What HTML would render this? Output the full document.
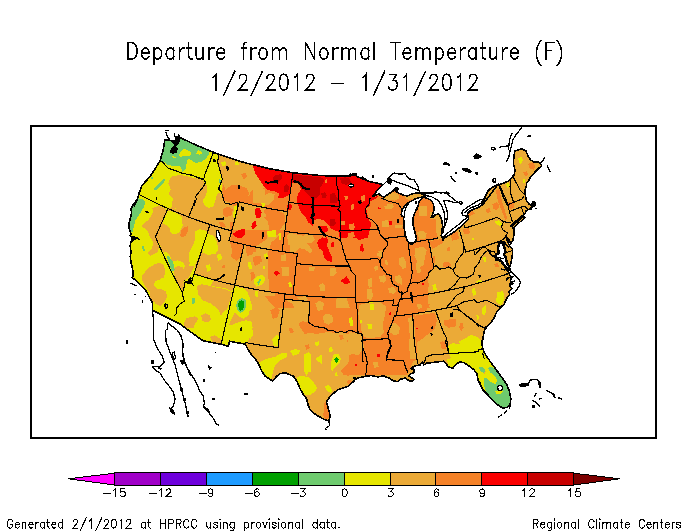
<!DOCTYPE html>
<html><head><meta charset="utf-8"><title>Departure from Normal Temperature</title>
<style>html,body{margin:0;padding:0;background:#fff;font-family:"Liberation Sans",sans-serif}svg{display:block}</style></head>
<body>
<svg width="688" height="531" viewBox="0 0 688 531">
<rect width="688" height="531" fill="#fff"/>
<g shape-rendering="crispEdges"><polygon points="180.5,138.1 178.2,140.4 175.2,141.1 171.4,140.8 168.1,139.9 164.9,139.6 164.0,145.7 162.8,151.7 161.1,157.0 160.4,160.2 157.8,164.5 154.5,169.8 151.0,175.1 147.2,179.7 144.6,182.5 141.5,186.5 139.3,192.5 138.4,196.0 136.6,201.6 134.4,205.8 136.3,200.5 132.5,205.8 131.0,208.8 131.7,212.6 130.2,218.7 128.7,224.7 129.5,230.0 131.0,233.8 130.2,235.6 132.5,238.3 131.0,241.3 130.2,245.9 131.0,251.9 130.2,256.5 131.0,262.5 132.5,268.6 133.3,275.8 131.9,277.3 136.5,281.1 141.0,285.7 145.5,290.2 147.8,294.0 150.1,298.5 152.3,302.3 152.3,310.1 180.0,324.0 189.1,330.8 196.6,336.1 202.7,340.6 221.6,344.4 228.4,346.2 229.6,341.3 245.3,344.1 247.3,348.2 251.0,354.2 255.6,359.5 258.6,364.0 261.6,370.8 264.7,375.8 272.7,381.0 276.5,376.5 280.2,373.4 286.3,373.1 293.8,376.5 297.6,382.5 299.9,388.5 302.9,393.8 306.7,399.1 308.2,405.2 310.5,410.5 316.5,415.0 324.1,419.5 328.9,421.0 329.8,418.0 329.7,413.5 327.8,406.7 326.3,402.2 328.6,398.4 331.6,395.0 334.7,392.3 338.4,389.6 343.7,387.8 348.3,386.3 354.0,381.0 354.4,379.6 359.7,377.5 365.4,376.3 371.7,375.5 377.8,377.0 383.1,375.8 389.9,378.5 392.9,380.8 397.4,381.6 400.5,379.3 402.7,378.8 405.0,377.8 407.3,379.6 411.0,381.6 413.5,380.5 413.8,379.0 411.0,377.3 408.8,375.8 411.0,373.6 414.1,372.5 414.4,369.5 411.0,368.7 412.6,367.2 415.6,365.7 420.1,364.9 422.4,361.9 423.9,364.9 426.9,363.0 430.7,362.7 436.7,361.9 444.0,361.2 448.1,366.5 452.7,368.3 455.7,364.9 459.5,361.9 464.0,362.7 468.5,365.7 473.8,369.5 476.9,374.0 478.1,380.5 480.6,385.3 482.9,389.9 486.7,393.7 489.7,397.4 493.5,401.2 498.0,405.0 502.6,408.0 507.1,407.3 510.1,404.2 510.9,399.0 509.4,391.4 507.1,385.3 503.3,379.3 498.8,373.3 495.8,369.0 490.5,361.9 486.7,356.6 483.7,351.3 482.2,346.0 482.2,340.0 482.5,341.6 482.9,338.6 484.0,332.5 485.5,328.0 490.0,323.4 493.8,318.9 495.6,314.4 497.6,310.6 501.3,306.8 504.4,303.8 506.6,298.5 509.7,294.7 508.9,291.7 511.9,288.7 509.7,285.7 512.7,283.4 510.4,280.4 511.9,277.3 509.7,275.1 508.2,272.0 505.9,269.0 504.4,266.0 507.0,270.1 509.6,267.0 511.5,261.0 512.3,255.0 512.3,248.9 510.0,246.6 508.5,243.6 507.0,239.8 505.5,236.1 508.5,238.6 510.8,244.1 513.0,239.8 514.1,233.8 513.8,228.5 512.3,226.2 511.0,226.0 512.9,224.1 516.0,221.0 519.8,217.9 522.9,215.4 525.4,213.5 526.0,211.0 527.9,209.8 529.8,209.1 531.6,207.2 534.1,206.0 535.8,204.1 534.1,201.6 532.2,202.9 531.6,205.4 529.1,204.1 526.6,201.0 526.0,197.9 525.0,193.5 525.4,188.5 526.6,184.8 526.6,183.4 528.2,181.2 530.4,177.4 532.7,175.1 535.0,172.1 537.2,169.8 539.5,167.6 541.8,166.1 540.2,163.0 538.0,162.0 534.2,162.0 530.7,160.0 528.2,156.2 525.9,150.9 521.3,148.7 517.6,150.2 515.0,150.9 513.8,156.2 513.5,163.8 515.0,169.8 514.5,174.4 512.3,177.4 508.5,181.2 498.7,185.0 494.1,186.5 490.4,188.7 487.3,191.8 485.4,197.0 483.6,201.6 482.0,205.8 498.1,184.1 492.5,187.2 488.8,190.4 486.2,194.1 484.4,197.9 482.5,200.6 481.2,205.4 478.8,207.2 473.8,209.2 470.0,211.1 467.5,213.5 467.8,216.2 468.8,219.1 466.2,221.6 463.1,224.1 460.0,227.2 456.2,230.4 452.5,232.9 448.8,235.4 445.0,237.2 442.5,238.5 443.1,240.0 442.5,238.5 441.2,235.4 442.5,232.2 443.1,228.5 442.5,224.8 441.9,221.0 440.6,217.2 439.4,214.5 438.1,214.1 435.0,214.8 433.1,217.2 431.2,217.5 432.5,214.8 433.8,211.0 434.0,207.2 433.1,203.5 431.2,200.4 427.5,198.5 423.5,197.2 422.8,197.9 420.6,199.8 419.0,202.2 418.1,206.0 415.6,211.0 413.8,215.4 412.8,219.8 413.1,224.8 414.4,229.8 415.6,234.8 416.5,239.1 415.0,242.2 412.5,243.8 410.6,243.8 407.5,241.0 405.6,236.0 404.4,229.8 404.0,223.5 403.5,217.2 401.9,216.0 401.2,214.1 401.9,211.0 403.5,207.5 406.0,204.5 408.8,202.5 411.9,200.8 415.0,199.0 418.8,197.8 422.8,196.9 425.2,195.9 423.0,194.6 420.2,193.0 416.5,192.8 411.5,194.2 407.1,196.0 404.0,195.2 399.6,193.6 396.8,192.1 398.4,188.6 396.8,187.4 395.2,188.8 392.8,191.1 389.0,193.6 384.0,197.1 381.5,196.2 379.0,194.0 375.9,195.2 372.8,196.5 372.8,195.9 375.9,192.1 379.0,188.4 382.8,185.0 383.4,184.6 375.2,182.8 369.0,181.5 364.0,179.0 362.5,178.7 356.5,176.4 356.0,174.1 352.7,173.8 348.9,176.4 349.2,176.2 336.1,176.2 318.5,175.4 293.0,172.8 268.3,168.5 243.7,162.4 219.3,154.5 213.5,152.3 196.1,145.1 180.3,137.7" fill="#ebaa37"/>
<clipPath id="us"><polygon points="180.5,138.1 178.2,140.4 175.2,141.1 171.4,140.8 168.1,139.9 164.9,139.6 164.0,145.7 162.8,151.7 161.1,157.0 160.4,160.2 157.8,164.5 154.5,169.8 151.0,175.1 147.2,179.7 144.6,182.5 141.5,186.5 139.3,192.5 138.4,196.0 136.6,201.6 134.4,205.8 136.3,200.5 132.5,205.8 131.0,208.8 131.7,212.6 130.2,218.7 128.7,224.7 129.5,230.0 131.0,233.8 130.2,235.6 132.5,238.3 131.0,241.3 130.2,245.9 131.0,251.9 130.2,256.5 131.0,262.5 132.5,268.6 133.3,275.8 131.9,277.3 136.5,281.1 141.0,285.7 145.5,290.2 147.8,294.0 150.1,298.5 152.3,302.3 152.3,310.1 180.0,324.0 189.1,330.8 196.6,336.1 202.7,340.6 221.6,344.4 228.4,346.2 229.6,341.3 245.3,344.1 247.3,348.2 251.0,354.2 255.6,359.5 258.6,364.0 261.6,370.8 264.7,375.8 272.7,381.0 276.5,376.5 280.2,373.4 286.3,373.1 293.8,376.5 297.6,382.5 299.9,388.5 302.9,393.8 306.7,399.1 308.2,405.2 310.5,410.5 316.5,415.0 324.1,419.5 328.9,421.0 329.8,418.0 329.7,413.5 327.8,406.7 326.3,402.2 328.6,398.4 331.6,395.0 334.7,392.3 338.4,389.6 343.7,387.8 348.3,386.3 354.0,381.0 354.4,379.6 359.7,377.5 365.4,376.3 371.7,375.5 377.8,377.0 383.1,375.8 389.9,378.5 392.9,380.8 397.4,381.6 400.5,379.3 402.7,378.8 405.0,377.8 407.3,379.6 411.0,381.6 413.5,380.5 413.8,379.0 411.0,377.3 408.8,375.8 411.0,373.6 414.1,372.5 414.4,369.5 411.0,368.7 412.6,367.2 415.6,365.7 420.1,364.9 422.4,361.9 423.9,364.9 426.9,363.0 430.7,362.7 436.7,361.9 444.0,361.2 448.1,366.5 452.7,368.3 455.7,364.9 459.5,361.9 464.0,362.7 468.5,365.7 473.8,369.5 476.9,374.0 478.1,380.5 480.6,385.3 482.9,389.9 486.7,393.7 489.7,397.4 493.5,401.2 498.0,405.0 502.6,408.0 507.1,407.3 510.1,404.2 510.9,399.0 509.4,391.4 507.1,385.3 503.3,379.3 498.8,373.3 495.8,369.0 490.5,361.9 486.7,356.6 483.7,351.3 482.2,346.0 482.2,340.0 482.5,341.6 482.9,338.6 484.0,332.5 485.5,328.0 490.0,323.4 493.8,318.9 495.6,314.4 497.6,310.6 501.3,306.8 504.4,303.8 506.6,298.5 509.7,294.7 508.9,291.7 511.9,288.7 509.7,285.7 512.7,283.4 510.4,280.4 511.9,277.3 509.7,275.1 508.2,272.0 505.9,269.0 504.4,266.0 507.0,270.1 509.6,267.0 511.5,261.0 512.3,255.0 512.3,248.9 510.0,246.6 508.5,243.6 507.0,239.8 505.5,236.1 508.5,238.6 510.8,244.1 513.0,239.8 514.1,233.8 513.8,228.5 512.3,226.2 511.0,226.0 512.9,224.1 516.0,221.0 519.8,217.9 522.9,215.4 525.4,213.5 526.0,211.0 527.9,209.8 529.8,209.1 531.6,207.2 534.1,206.0 535.8,204.1 534.1,201.6 532.2,202.9 531.6,205.4 529.1,204.1 526.6,201.0 526.0,197.9 525.0,193.5 525.4,188.5 526.6,184.8 526.6,183.4 528.2,181.2 530.4,177.4 532.7,175.1 535.0,172.1 537.2,169.8 539.5,167.6 541.8,166.1 540.2,163.0 538.0,162.0 534.2,162.0 530.7,160.0 528.2,156.2 525.9,150.9 521.3,148.7 517.6,150.2 515.0,150.9 513.8,156.2 513.5,163.8 515.0,169.8 514.5,174.4 512.3,177.4 508.5,181.2 498.7,185.0 494.1,186.5 490.4,188.7 487.3,191.8 485.4,197.0 483.6,201.6 482.0,205.8 498.1,184.1 492.5,187.2 488.8,190.4 486.2,194.1 484.4,197.9 482.5,200.6 481.2,205.4 478.8,207.2 473.8,209.2 470.0,211.1 467.5,213.5 467.8,216.2 468.8,219.1 466.2,221.6 463.1,224.1 460.0,227.2 456.2,230.4 452.5,232.9 448.8,235.4 445.0,237.2 442.5,238.5 443.1,240.0 442.5,238.5 441.2,235.4 442.5,232.2 443.1,228.5 442.5,224.8 441.9,221.0 440.6,217.2 439.4,214.5 438.1,214.1 435.0,214.8 433.1,217.2 431.2,217.5 432.5,214.8 433.8,211.0 434.0,207.2 433.1,203.5 431.2,200.4 427.5,198.5 423.5,197.2 422.8,197.9 420.6,199.8 419.0,202.2 418.1,206.0 415.6,211.0 413.8,215.4 412.8,219.8 413.1,224.8 414.4,229.8 415.6,234.8 416.5,239.1 415.0,242.2 412.5,243.8 410.6,243.8 407.5,241.0 405.6,236.0 404.4,229.8 404.0,223.5 403.5,217.2 401.9,216.0 401.2,214.1 401.9,211.0 403.5,207.5 406.0,204.5 408.8,202.5 411.9,200.8 415.0,199.0 418.8,197.8 422.8,196.9 425.2,195.9 423.0,194.6 420.2,193.0 416.5,192.8 411.5,194.2 407.1,196.0 404.0,195.2 399.6,193.6 396.8,192.1 398.4,188.6 396.8,187.4 395.2,188.8 392.8,191.1 389.0,193.6 384.0,197.1 381.5,196.2 379.0,194.0 375.9,195.2 372.8,196.5 372.8,195.9 375.9,192.1 379.0,188.4 382.8,185.0 383.4,184.6 375.2,182.8 369.0,181.5 364.0,179.0 362.5,178.7 356.5,176.4 356.0,174.1 352.7,173.8 348.9,176.4 349.2,176.2 336.1,176.2 318.5,175.4 293.0,172.8 268.3,168.5 243.7,162.4 219.3,154.5 213.5,152.3 196.1,145.1 180.3,137.7"/></clipPath><g clip-path="url(#us)">
<polygon points="178.5,294.5 199.7,294.5 202.7,300.5 208.7,302.0 214.8,304.3 218.5,309.6 220.8,315.7 223.8,311.1 225.3,326.2 232.2,324.7 240.5,321.7 246.5,320.2 251.0,321.7 252.6,327.7 251.0,335.3 248.0,341.3 245.3,344.1 245.3,377.6 178.5,377.6" fill="#e6e600"/>
<polygon points="108.5,264.5 155.3,264.5 155.3,347.6 108.5,347.6" fill="#e6e600"/>
<polygon points="98.5,194.5 167.3,194.5 167.3,209.6 155.2,235.6 174.8,275.8 174.8,280.7 98.5,280.7" fill="#e6e600"/>
<polygon points="118.5,124.5 222.0,124.5 222.0,207.6 118.5,207.6" fill="#e6e600"/>
<polygon points="367.8,186.2 435.8,186.2 435.8,237.6 367.8,237.6" fill="#f58228"/>
<polygon points="270.1,226.0 335.8,226.0 335.8,307.6 275.3,307.6 269.3,301.6 264.8,296.3 275.3,295.5 275.3,292.5 269.6,291.0 268.5,278.9 267.8,263.8 268.5,250.9 270.1,248.7 270.8,242.6 275.3,239.6 279.9,235.1 278.4,230.5" fill="#f58228"/>
<polygon points="245.1,226.0 254.2,226.0 254.9,235.1 251.2,241.1 245.1,240.4" fill="#f58228"/>
<polygon points="322.4,224.5 431.0,224.5 431.0,226.0 436.0,232.0 439.0,240.1 436.0,245.0 440.0,250.0 442.0,255.9 439.0,263.9 436.0,268.0 429.9,271.0 428.0,280.0 429.9,289.9 428.0,299.9 429.9,308.4 322.4,308.4" fill="#f58228"/>
<polygon points="285.5,294.5 293.8,294.5 293.8,288.5 355.8,288.5 355.8,335.3 346.7,333.8 340.7,331.6 334.7,333.1 328.6,331.6 322.6,333.1 316.5,333.8 310.5,333.1 304.4,333.8 301.4,329.3 298.4,324.0 302.2,321.0 307.4,322.5 308.7,312.7 301.4,314.2 295.3,311.2 293.1,304.4 289.3,302.1 285.5,299.8" fill="#f58228"/>
<polygon points="285.5,299.8 289.3,302.1 293.1,304.4 295.3,311.2 301.4,314.2 308.7,312.7 308.7,301.8 284.8,299.4" fill="#ebaa37"/>
<polygon points="348.5,288.5 399.9,288.5 398.4,299.1 415.0,296.8 428.6,296.0 430.1,303.6 425.6,311.2 415.0,313.4 415.0,315.7 425.6,314.2 434.7,312.7 436.9,320.2 434.7,329.3 428.6,333.8 421.0,339.9 416.5,342.2 416.5,359.5 413.5,361.0 407.4,374.7 348.5,374.7" fill="#f58228"/>
<polygon points="288.5,184.5 395.8,184.5 395.8,267.6 288.5,267.6" fill="#f58228"/>
<polygon points="222.9,184.5 222.2,190.5 223.7,201.1 237.3,202.9 245.6,205.7 251.6,211.7 248.6,219.3 242.6,223.8 238.0,228.3 232.7,232.9 229.7,241.2 232.0,249.5 231.2,257.0 236.5,260.8 241.0,257.0 242.6,249.5 243.3,245.3 254.7,246.5 260.7,243.4 266.7,238.9 268.3,231.3 274.0,228.3 275.8,228.3 275.8,184.5" fill="#f58228"/>
<polygon points="148.5,268.7 154.5,265.7 158.3,261.1 162.1,253.6 165.9,251.3 169.7,255.1 171.9,261.1 178.0,260.4 183.3,262.6 186.3,268.7 189.6,264.1 189.3,255.1 192.3,250.5 195.3,246.0 202.9,246.0 199.9,255.1 195.3,264.1 194.1,274.0 199.9,276.2 207.4,278.5 213.5,280.8 210.5,285.3 216.5,286.8 225.6,288.3 231.6,291.3 234.7,285.3 240.7,288.3 246.7,291.3 249.8,297.4 250.5,306.5 248.3,315.5 243.7,318.6 239.2,317.0 234.7,312.5 232.4,317.0 228.6,325.8 228.6,330.7 148.5,330.7" fill="#e6e600"/>
<polygon points="150.0,244.5 157.6,244.5 160.6,252.0 159.1,256.6 153.8,257.3 150.0,255.1 148.5,255.1 148.5,244.5" fill="#e6e600"/>
<polygon points="330.0,171.1 384.4,171.1 383.2,183.2 379.9,187.0 376.1,191.5 372.3,196.1 375.3,196.8 378.7,195.6 375.3,199.1 370.1,201.3 369.6,205.9 366.3,208.2 367.0,213.4 368.5,219.5 370.8,224.0 370.1,228.3 367.8,237.6 330.0,237.6" fill="#fa0000"/>
<polygon points="296.8,184.5 296.8,190.5 296.0,198.1 298.3,205.7 301.3,211.7 305.1,216.2 308.1,222.3 312.7,226.1 313.4,220.8 317.2,218.5 324.8,220.8 330.1,226.8 335.3,230.6 339.1,231.3 339.9,237.4 344.4,238.2 348.2,232.9 353.5,231.3 355.0,236.6 359.5,239.7 364.1,238.9 364.8,231.3 370.1,228.3 371.6,223.8 368.6,219.3 366.3,213.2 365.6,207.2 368.6,202.6 372.4,197.3 377.7,192.8 382.2,189.0 383.7,184.5" fill="#fa0000"/>
<polygon points="164.9,139.6 171.4,140.8 178.2,140.4 180.5,138.1 192.6,142.9 204.7,148.4 209.5,150.9 208.9,154.0 206.2,158.5 201.6,161.5 195.6,163.0 191.0,160.0 188.0,158.5 186.5,163.8 185.3,169.8 182.7,172.1 180.5,166.5 175.9,166.1 171.4,165.6 166.9,164.5 164.6,162.3 160.4,160.2 162.8,151.7 164.0,145.7" fill="#6ecb6e"/>
<polygon points="179.0,155.5 180.5,151.7 183.5,148.7 188.0,150.2 191.0,152.5 190.3,155.5 186.5,156.2 183.5,155.5 181.2,157.0" fill="#e6e600"/>
<polygon points="196.3,154.0 197.8,150.2 200.9,150.9 202.4,154.0 199.4,154.7" fill="#e6e600"/>
<polygon points="172.2,156.2 175.9,157.0 176.2,158.5 172.9,158.2" fill="#e6e600"/>
<polygon points="138.4,196.0 139.0,199.0 144.6,199.8 143.8,205.1 141.6,211.1 138.5,215.7 135.5,220.2 134.0,226.2 132.5,232.3 130.2,231.5 128.7,224.7 130.2,218.7 131.7,212.6 131.0,208.8 132.5,205.8 136.3,200.5" fill="#6ecb6e"/>
<polygon points="141.6,246.6 143.8,245.9 145.0,250.4 143.1,251.2" fill="#6ecb6e"/>
<polygon points="166.5,256.5 168.8,255.7 171.8,262.5 174.8,270.1 172.6,271.6 169.5,264.0" fill="#6ecb6e"/>
<polygon points="152.2,208.1 159.7,205.4 166.5,209.6 165.3,216.4 162.3,223.2 158.7,228.0 155.9,234.5 156.7,241.3 159.0,247.4 157.4,252.7 153.7,254.2 150.6,255.7 147.6,253.4 151.4,248.9 153.2,244.4 152.2,239.8 149.9,236.8 148.1,231.5 145.3,228.5 141.6,227.0 143.8,223.2 148.1,220.2 151.4,215.7 153.2,211.1" fill="#ebaa37"/>
<polygon points="142.0,275.1 146.3,271.3 152.3,269.8 159.9,266.8 164.4,266.0 162.9,269.0 158.4,275.1 154.6,281.1 153.8,285.7 156.9,288.7 161.4,289.4 165.9,291.7 167.4,296.2 164.4,302.3 159.9,306.1 155.3,303.8 153.1,298.5 150.1,293.2 145.5,287.2 142.5,281.1" fill="#ebaa37"/>
<polygon points="176.5,278.1 181.0,272.0 185.6,266.0 194.7,266.0 191.6,272.0 188.6,278.1 184.1,281.1 181.0,287.2 178.8,285.7" fill="#ebaa37"/>
<polygon points="196.9,285.7 202.2,284.1 214.0,288.7 214.0,300.8 206.7,301.5 200.7,297.7 197.7,291.7" fill="#ebaa37"/>
<polygon points="201.5,315.9 205.2,314.1 209.8,315.9 210.5,319.7 206.7,322.2 202.2,320.7" fill="#ebaa37"/>
<polygon points="184.1,321.9 188.6,318.2 194.7,316.6 198.0,318.2 196.2,322.7 192.4,326.5 187.1,328.0 184.4,325.7" fill="#ebaa37"/>
<polygon points="169.7,266.0 174.2,266.0 172.7,271.3 171.2,270.5" fill="#6ecb6e"/>
<polygon points="192.4,298.5 194.7,298.0 193.9,303.8 192.1,304.1" fill="#6ecb6e"/>
<polygon points="199.7,296.0 231.4,296.0 228.4,305.1 223.8,311.1 220.8,315.7 218.5,309.6 214.8,304.3 208.7,302.0 202.7,300.5" fill="#ebaa37"/>
<polygon points="201.2,315.7 205.7,314.1 210.2,316.4 211.0,320.2 207.2,322.5 202.7,320.9" fill="#ebaa37"/>
<polygon points="184.5,320.9 189.1,317.2 195.1,316.4 198.1,318.7 195.1,324.0 189.1,326.2 185.3,324.7" fill="#ebaa37"/>
<polygon points="210.2,336.8 214.8,335.3 220.8,339.1 221.1,344.1 212.5,342.1" fill="#ebaa37"/>
<polygon points="192.1,299.0 194.4,298.3 193.9,302.8 192.4,303.6" fill="#6ecb6e"/>
<polygon points="259.1,365.1 265.1,361.3 272.7,359.1 280.2,354.5 286.3,353.0 287.0,356.8 282.5,358.3 278.0,362.1 274.2,366.6 272.7,372.7 271.2,379.5 265.1,376.0 261.3,371.2" fill="#e6e600"/>
<polygon points="260.6,368.9 262.8,370.4 265.1,374.2 263.6,374.9 260.9,371.2" fill="#6ecb6e"/>
<polygon points="304.4,354.5 308.2,352.3 310.5,354.5 310.5,365.1 308.2,372.7 306.7,376.5 304.7,372.7 303.7,363.6" fill="#e6e600"/>
<polygon points="296.9,377.2 302.2,375.7 308.2,377.2 313.5,382.5 317.3,387.8 315.0,391.6 310.5,394.6 306.7,395.3 302.9,393.1 299.9,387.8 297.6,381.7" fill="#e6e600"/>
<polygon points="315.0,359.1 321.8,354.5 322.3,364.4" fill="#e6e600"/>
<polygon points="330.9,362.1 333.9,354.5 336.9,353.8 340.7,359.1 339.2,363.6 335.4,366.6 332.4,370.4 330.9,369.7 333.1,365.1" fill="#e6e600"/>
<polygon points="333.9,359.8 336.5,356.0 338.4,359.8 336.5,363.3" fill="#00a000"/>
<polygon points="334.7,373.4 336.9,371.9 337.7,375.7 335.4,376.5" fill="#e6e600"/>
<polygon points="324.8,386.3 328.6,384.8 332.4,390.1 330.9,393.1 327.1,390.8" fill="#e6e600"/>
<polygon points="290.1,351.5 295.3,350.0 300.6,350.0 298.4,353.8 293.1,355.3" fill="#e6e600"/>
<polygon points="340.7,370.4 346.7,365.1 350.5,359.1 354.0,354.5 354.0,374.2 348.3,375.7 343.7,374.9" fill="#f58228"/>
<polygon points="346.7,381.0 350.5,379.5 352.0,382.5 348.3,384.0" fill="#f58228"/>
<polygon points="323.6,402.9 326.6,402.2 328.3,410.5 329.2,418.0 325.6,419.2 322.9,415.0 324.4,409.0" fill="#f58228"/>
<polygon points="448.1,366.5 447.8,362.7 451.2,358.1 448.9,353.6 447.8,346.0 452.7,343.0 460.2,344.5 462.5,340.0 482.2,340.0 482.2,346.0 483.7,351.3 486.7,356.6 490.5,361.9 495.8,369.0 493.5,375.5 489.7,372.5 488.2,368.0 484.4,372.5 483.7,378.5 484.4,386.9 486.7,393.7 482.9,389.9 480.6,385.3 478.1,380.5 476.9,374.0 473.8,369.5 468.5,365.7 464.0,362.7 459.5,361.9 455.7,364.9 452.7,368.3" fill="#e6e600"/>
<polygon points="483.7,378.5 486.7,377.8 490.5,381.6 495.0,383.8 496.5,380.1 493.5,375.5 489.7,372.5 488.2,368.0 491.2,366.5 495.0,368.7 498.8,374.0 503.3,379.6 507.1,385.3 509.4,391.4 510.6,399.0 509.8,404.2 507.1,407.3 502.6,407.7 498.0,404.7 493.5,400.9 489.7,397.1 486.7,393.2 484.4,386.9 483.7,382.3" fill="#6ecb6e"/>
<polygon points="482.9,378.5 487.4,367.2 490.5,372.5 494.2,375.5 497.3,380.1 495.3,384.1 490.5,382.0 486.7,378.1" fill="#e6e600"/>
<polygon points="478.4,367.2 482.2,366.5 485.2,370.2 483.7,373.3 480.6,371.0" fill="#6ecb6e"/>
<polygon points="495.0,391.4 498.0,390.6 503.3,390.6 501.0,393.7 496.5,393.7" fill="#e6e600"/>
<polygon points="439.8,343.0 442.8,340.8 445.1,344.5 445.9,349.1 442.8,348.3" fill="#f58228"/>
<polygon points="471.9,288.7 474.9,287.9 476.4,295.5 474.1,298.5 472.3,294.7" fill="#e6e600"/>
<polygon points="496.8,296.2 499.8,292.5 503.6,293.2 504.4,298.5 502.1,303.8 498.3,304.5 496.1,301.5" fill="#e6e600"/>
<polygon points="482.5,308.3 485.5,305.3 486.2,311.3 484.0,315.9 482.0,313.6" fill="#e6e600"/>
<polygon points="476.4,315.1 478.4,314.4 478.7,318.9 477.2,319.7" fill="#e6e600"/>
<polygon points="474.9,280.4 480.9,279.6 481.7,281.9 475.7,282.6" fill="#e6e600"/>
<polygon points="459.8,323.4 462.8,322.7 463.6,328.0 461.3,331.0 459.3,328.0" fill="#f58228"/>
<polygon points="459.0,341.6 465.1,338.6 471.1,334.8 477.2,337.0 481.7,341.6 482.5,345.8 482.0,350.7 462.0,350.7" fill="#e6e600"/>
<polygon points="494.9,221.7 498.7,220.2 502.0,224.0 500.2,225.9 496.4,224.0" fill="#e6e600"/>
<polygon points="484.3,258.0 485.8,257.2 486.9,261.8 485.4,262.5" fill="#e6e600"/>
<polygon points="528.2,163.8 532.7,162.3 535.7,166.1 533.4,169.8 529.7,168.3" fill="#f58228"/>
<polygon points="522.9,172.1 526.6,171.3 528.2,175.1 525.1,176.6" fill="#f58228"/>
<polygon points="518.3,158.5 521.3,157.0 523.2,160.0 521.3,163.8 519.1,163.0" fill="#e6e600"/>
<polygon points="505.5,184.2 508.5,182.7 510.0,185.7 507.7,188.0" fill="#e6e600"/>
<polygon points="522.9,179.7 524.4,178.9 525.1,182.7 523.6,183.4" fill="#e6e600"/>
<polygon points="230.0,184.8 234.5,182.5 239.1,180.2 243.6,184.0 248.1,185.5 251.2,182.5 255.7,185.5 260.2,182.5 264.0,186.3 267.8,190.1 275.3,191.6 279.9,193.8 277.6,197.6 282.9,198.4 288.2,195.3 290.8,193.8 291.2,182.5 298.8,183.6 301.0,189.3 297.7,194.6 296.5,200.6 298.8,206.7 301.0,212.7 305.6,218.8 308.6,224.1 311.6,229.8 311.6,234.7 230.0,234.7" fill="#f58228"/>
<polygon points="252.4,164.8 254.9,172.7 259.5,179.5 264.0,186.3 267.8,190.1 275.3,191.6 279.9,193.8 277.6,197.6 282.9,198.4 288.2,195.3 290.8,193.8 291.2,182.5 298.8,183.6 301.0,189.3 297.7,194.6 296.5,200.6 298.8,206.7 301.0,212.7 305.1,216.2 308.2,222.3 312.7,226.0 313.4,220.7 317.2,218.5 324.8,220.7 330.1,226.8 335.4,230.6 335.8,230.6 335.8,175.7 292.7,172.4 275.3,170.1" fill="#fa0000"/>
<polygon points="286.7,205.9 289.7,203.7 292.3,205.2 291.2,209.7 288.2,210.5" fill="#fa0000"/>
<polygon points="272.3,178.0 275.3,174.9 281.4,174.2 282.2,178.7 278.4,182.5 273.8,181.7" fill="#c80000"/>
<polygon points="292.7,174.2 301.0,175.4 311.6,176.5 320.7,177.2 324.5,179.5 322.2,184.8 319.2,189.3 316.2,195.3 314.7,200.6 312.4,198.4 311.6,193.8 308.6,190.1 305.6,188.5 301.0,184.0 296.5,181.0 292.7,181.0" fill="#c80000"/>
<polygon points="283.7,186.3 286.7,184.0 289.0,187.0 288.2,191.6 284.4,192.3" fill="#c80000"/>
<polygon points="322.2,193.8 324.5,191.6 326.7,195.3 325.2,198.4 322.5,197.6" fill="#c80000"/>
<polygon points="324.9,180.2 326.7,178.7 327.5,182.5 325.5,183.3" fill="#f58228"/>
<polygon points="241.3,174.9 244.4,173.4 246.6,175.7 245.1,178.7 242.1,178.4" fill="#f58228"/>
<polygon points="233.8,164.4 236.8,162.8 239.1,164.4 236.0,166.9" fill="#e6e600"/>
<polygon points="261.0,199.9 264.0,195.3 269.3,193.1 274.6,193.8 273.8,199.9 269.3,204.4 264.0,205.2" fill="#ebaa37"/>
<polygon points="261.0,201.4 264.0,200.6 265.1,205.9 262.0,207.1" fill="#e6e600"/>
<polygon points="238.3,202.2 287.4,211.2 285.2,229.8 233.0,229.8" fill="#ebaa37"/>
<polygon points="264.8,209.0 275.3,209.7 284.4,213.5 285.2,222.6 279.9,229.8 269.3,229.8 267.8,221.0 263.3,216.5" fill="#f58228"/>
<polygon points="254.9,210.5 258.7,207.4 261.7,212.0 259.5,218.0 255.7,216.5" fill="#fa0000"/>
<polygon points="251.9,223.3 254.9,221.0 257.2,225.6 254.2,228.6" fill="#fa0000"/>
<polygon points="230.0,207.4 235.3,205.2 236.8,210.5 234.5,221.0 230.0,222.6" fill="#e6e600"/>
<polygon points="339.8,178.7 345.1,177.2 349.7,178.7 351.2,182.5 346.6,184.7 342.1,184.0" fill="#c80000"/>
<polygon points="330.0,193.8 334.5,193.0 336.0,198.3 333.8,202.9 330.0,202.9" fill="#c80000"/>
<polygon points="330.0,219.5 334.5,218.7 336.0,223.3 333.0,227.0 330.0,226.3" fill="#c80000"/>
<polygon points="344.4,196.1 347.4,195.6 348.1,199.1 345.1,200.1" fill="#f58228"/>
<polygon points="361.0,196.1 364.8,195.0 365.5,200.6 362.0,201.3" fill="#f58228"/>
<polygon points="350.4,204.7 353.9,204.4 354.2,209.2 351.2,209.7" fill="#f58228"/>
<polygon points="348.9,224.0 354.2,223.3 354.9,229.8 349.7,230.1" fill="#f58228"/>
<polygon points="339.8,221.3 344.8,221.0 345.1,225.2 340.6,225.5" fill="#f58228"/>
<polygon points="405.6,192.3 434.0,191.5 434.0,197.6 414.7,198.6 408.6,199.8 404.8,197.6" fill="#ebaa37"/>
<polygon points="382.9,197.6 387.4,194.5 393.5,192.3 398.0,193.8 399.5,198.3 395.0,200.6 390.5,199.8 385.9,200.6" fill="#ebaa37"/>
<polygon points="384.4,205.9 392.0,205.6 392.3,208.9 384.7,209.2" fill="#ebaa37"/>
<polygon points="382.2,221.0 388.2,221.3 387.9,227.0 382.5,226.7" fill="#ebaa37"/>
<polygon points="395.0,224.8 402.6,225.1 402.3,228.0 395.3,227.7" fill="#ebaa37"/>
<polygon points="419.2,205.9 426.7,206.2 427.0,216.5 419.5,216.2" fill="#ebaa37"/>
<polygon points="429.8,211.9 435.8,212.2 435.8,219.5 430.1,219.2" fill="#ebaa37"/>
<polygon points="389.7,221.0 392.0,221.3 391.7,224.0 389.9,223.7" fill="#fa0000"/>
<polygon points="378.4,207.4 381.4,207.7 381.1,209.2 378.5,208.9" fill="#fa0000"/>
<polygon points="252.7,260.0 256.5,256.2 260.2,257.7 259.5,263.8 254.9,266.1" fill="#f58228"/>
<polygon points="250.4,272.9 254.2,271.3 254.9,278.2 251.2,280.4" fill="#f58228"/>
<polygon points="231.5,248.7 236.0,247.2 241.3,248.7 240.6,256.2 236.0,258.5 231.8,256.2" fill="#f58228"/>
<polygon points="263.6,254.7 267.0,253.2 268.1,257.0 265.1,259.0" fill="#e6e600"/>
<polygon points="247.8,262.3 250.4,261.1 251.2,268.3 248.9,269.8" fill="#e6e600"/>
<polygon points="262.5,266.1 264.8,265.6 265.1,269.1 263.0,269.5" fill="#e6e600"/>
<polygon points="254.2,278.9 258.0,275.9 262.5,275.1 265.1,278.2 264.0,282.7 260.2,285.7 256.5,286.5 254.2,283.4" fill="#e6e600"/>
<polygon points="288.2,282.7 291.2,282.2 292.0,286.5 289.3,287.2" fill="#e6e600"/>
<polygon points="233.8,294.0 237.6,288.7 243.6,288.0 248.1,292.5 248.9,301.6 246.6,307.6 233.0,307.6" fill="#e6e600"/>
<polygon points="254.9,292.5 258.0,291.8 258.4,296.3 255.7,297.0" fill="#e6e600"/>
<polygon points="266.3,232.8 272.3,231.3 273.8,234.3 268.5,236.6" fill="#e6e600"/>
<polygon points="278.4,233.6 280.6,232.8 281.1,239.6 279.1,240.4" fill="#e6e600"/>
<polygon points="257.2,282.7 259.5,278.9 261.4,278.9 260.2,282.2 258.4,284.7" fill="#6ecb6e"/>
<polygon points="236.0,301.6 239.1,297.8 243.6,298.3 245.1,303.1 243.6,307.6 236.8,307.6" fill="#6ecb6e"/>
<polygon points="238.3,303.8 240.6,300.1 243.3,300.8 243.9,307.6 239.1,307.6" fill="#00a000"/>
<polygon points="273.1,272.9 276.9,270.6 279.9,273.6 276.6,275.6" fill="#fa0000"/>
<polygon points="232.3,234.3 237.6,230.5 244.4,228.3 245.1,232.8 240.6,237.3 235.3,236.6" fill="#fa0000"/>
<polygon points="251.2,226.0 255.7,226.0 254.2,229.0 251.9,228.7" fill="#fa0000"/>
<polygon points="317.7,240.4 322.2,238.1 326.7,237.3 328.3,241.1 326.7,245.7 329.0,250.2 331.3,256.2 332.0,261.5 328.3,260.0 325.2,255.5 323.0,250.9 319.9,248.7 317.7,244.1" fill="#fa0000"/>
<polygon points="319.2,226.0 326.7,226.0 328.3,230.5 324.5,232.8 320.7,230.5" fill="#fa0000"/>
<polygon points="329.8,226.0 334.0,226.0 334.0,229.8 331.3,229.0" fill="#fa0000"/>
<polygon points="331.3,242.6 334.0,241.9 334.0,247.2 331.6,247.2" fill="#fa0000"/>
<polygon points="280.6,254.7 285.9,254.4 286.2,260.8 281.1,261.1" fill="#ebaa37"/>
<polygon points="281.4,266.8 289.0,266.5 289.3,275.9 282.2,276.2" fill="#ebaa37"/>
<polygon points="301.0,237.3 305.6,234.3 312.4,235.1 314.7,239.6 310.9,243.4 304.8,242.6" fill="#ebaa37"/>
<polygon points="287.1,235.1 290.5,232.8 295.0,235.1 295.8,242.6 292.0,246.4 288.2,244.9" fill="#ebaa37"/>
<polygon points="308.6,266.8 314.7,267.1 314.3,271.3 308.9,271.0" fill="#ebaa37"/>
<polygon points="319.2,285.0 323.0,283.1 325.5,286.5 324.5,291.0 320.4,291.3" fill="#ebaa37"/>
<polygon points="329.8,269.8 334.0,270.1 334.0,274.4 330.1,274.1" fill="#ebaa37"/>
<polygon points="296.5,297.0 305.6,296.3 308.6,300.1 301.0,301.6" fill="#ebaa37"/>
<polygon points="330.0,226.0 339.1,226.0 339.8,232.0 336.0,235.1 331.5,233.6 330.0,230.5" fill="#fa0000"/>
<polygon points="341.3,229.0 346.6,227.5 349.7,232.0 346.6,237.3 342.1,236.6" fill="#fa0000"/>
<polygon points="352.7,230.5 356.5,226.0 366.3,226.0 365.5,233.6 363.3,238.8 358.0,239.6 354.2,236.6" fill="#fa0000"/>
<polygon points="359.5,248.7 362.0,242.6 363.6,250.2 361.0,251.7" fill="#fa0000"/>
<polygon points="330.0,254.7 331.5,256.2 331.8,261.5 330.0,262.3" fill="#fa0000"/>
<polygon points="340.6,281.2 346.6,275.9 350.4,282.7 345.1,284.2" fill="#fa0000"/>
<polygon points="422.2,283.4 424.5,283.1 424.2,285.3 422.4,285.1" fill="#fa0000"/>
<polygon points="330.8,244.1 332.3,243.8 332.3,246.4 330.9,246.4" fill="#fa0000"/>
<polygon points="416.9,232.0 422.2,230.5 426.7,233.6 425.2,238.8 419.2,239.6" fill="#ebaa37"/>
<polygon points="398.8,258.5 402.6,257.0 405.6,261.5 406.3,267.6 402.6,269.1 399.5,264.5" fill="#ebaa37"/>
<polygon points="395.0,275.9 400.3,275.1 402.6,280.4 398.8,284.2 395.3,281.2" fill="#ebaa37"/>
<polygon points="379.1,276.6 384.4,275.1 386.7,278.9 384.4,282.7 379.9,281.9" fill="#ebaa37"/>
<polygon points="368.5,278.9 371.6,278.2 372.3,286.5 369.6,288.0 367.8,284.2" fill="#ebaa37"/>
<polygon points="367.0,289.5 371.6,288.7 373.1,295.5 370.8,300.1 367.0,298.6" fill="#ebaa37"/>
<polygon points="388.2,288.0 393.5,287.2 396.5,291.0 393.5,294.0 389.0,292.5" fill="#ebaa37"/>
<polygon points="373.8,266.8 377.6,265.6 378.4,269.8 375.0,271.0" fill="#ebaa37"/>
<polygon points="385.2,260.0 387.4,259.6 387.7,265.3 385.6,265.6" fill="#ebaa37"/>
<polygon points="376.9,253.2 380.6,251.7 381.4,255.5 377.6,256.2" fill="#ebaa37"/>
<polygon points="330.0,268.3 335.3,267.6 336.8,272.9 333.0,276.6 330.0,275.9" fill="#ebaa37"/>
<polygon points="336.0,298.6 346.6,297.8 349.7,307.6 336.0,307.6" fill="#ebaa37"/>
<polygon points="432.0,285.0 434.3,284.2 434.3,291.0 432.5,291.3" fill="#e6e600"/>
<polygon points="368.5,302.3 375.3,301.6 376.9,307.6 369.3,307.6" fill="#e6e600"/>
<polygon points="445.9,247.2 448.9,246.4 449.7,250.2 446.6,250.9" fill="#f58228"/>
<polygon points="494.2,263.8 498.0,263.0 498.8,266.8 495.0,267.1" fill="#f58228"/>
<polygon points="432.3,283.4 436.0,282.7 436.8,291.0 433.0,292.5" fill="#e6e600"/>
<polygon points="471.6,288.7 475.3,288.0 476.1,296.3 472.3,297.0" fill="#e6e600"/>
<polygon points="496.5,292.5 502.6,291.0 504.1,298.6 501.0,305.8 496.5,301.6" fill="#e6e600"/>
<polygon points="482.9,257.0 485.9,256.2 487.1,262.3 484.4,263.0" fill="#e6e600"/>
<polygon points="476.9,279.7 481.4,278.9 482.2,282.7 477.6,283.4" fill="#e6e600"/>
<polygon points="471.1,238.1 473.8,237.8 473.8,240.4 471.4,240.4" fill="#e6e600"/>
<polygon points="270.4,310.4 276.5,307.4 279.5,309.7 278.0,314.9 272.7,318.7" fill="#f58228"/>
<polygon points="275.7,293.0 284.0,293.8 283.6,299.1 279.5,299.8 276.5,296.8" fill="#f58228"/>
<polygon points="288.5,328.5 291.6,327.8 293.8,331.6 290.8,333.8" fill="#f58228"/>
<polygon points="305.2,345.2 309.0,344.4 309.7,348.2 306.2,349.7" fill="#f58228"/>
<polygon points="339.2,335.3 343.0,334.6 343.7,339.1 340.4,339.9" fill="#f58228"/>
<polygon points="346.7,339.9 349.0,339.1 349.5,342.9 347.0,343.2" fill="#f58228"/>
<polygon points="349.8,356.5 355.8,355.0 355.8,371.6 348.3,371.6" fill="#f58228"/>
<polygon points="250.0,302.1 251.5,303.6 251.8,309.7 250.0,310.4" fill="#e6e600"/>
<polygon points="250.0,320.2 252.3,323.3 252.7,335.3 250.0,339.9" fill="#e6e600"/>
<polygon points="272.7,339.9 276.5,335.3 278.0,338.4 277.2,344.4 273.4,343.7" fill="#e6e600"/>
<polygon points="255.3,291.5 257.6,290.8 258.3,296.0 256.0,296.8" fill="#e6e600"/>
<polygon points="315.0,342.2 318.8,341.4 319.2,345.2 315.8,345.9" fill="#e6e600"/>
<polygon points="328.6,348.2 331.6,346.7 333.1,351.2 329.4,352.0" fill="#e6e600"/>
<polygon points="290.8,350.5 295.3,349.0 299.1,350.5 298.4,354.2 293.1,355.8" fill="#e6e600"/>
<polygon points="259.1,362.6 266.6,358.8 275.7,356.5 282.5,352.7 287.0,353.5 286.3,357.3 280.2,360.3 275.7,364.8 272.7,371.6 260.6,371.6" fill="#e6e600"/>
<polygon points="304.4,355.0 308.2,352.0 311.2,354.2 310.5,371.6 303.7,371.6" fill="#e6e600"/>
<polygon points="315.8,359.5 321.8,355.0 322.3,364.1" fill="#e6e600"/>
<polygon points="331.6,361.0 334.7,355.0 338.4,354.2 340.7,358.8 339.2,363.3 335.4,365.6 332.4,371.6 330.9,365.6" fill="#e6e600"/>
<polygon points="349.0,318.7 352.0,317.2 352.8,324.0 349.8,325.5" fill="#e6e600"/>
<polygon points="334.3,359.8 336.5,356.5 338.9,359.8 336.6,363.3" fill="#00a000"/>
<polygon points="315.3,303.6 319.5,300.6 324.1,302.8 322.6,309.7 318.0,311.2" fill="#ebaa37"/>
<polygon points="322.6,316.5 327.1,313.4 332.4,315.7 333.1,321.7 328.6,324.8 324.1,322.5" fill="#ebaa37"/>
<polygon points="339.2,297.6 346.7,297.9 346.0,301.3 339.9,300.9" fill="#ebaa37"/>
<polygon points="359.1,305.1 368.1,302.8 380.2,302.1 386.3,306.6 384.8,315.7 382.5,324.8 384.0,332.3 380.2,336.9 368.1,338.4 362.1,335.3 360.6,324.8 358.3,314.2" fill="#ebaa37"/>
<polygon points="408.2,318.0 413.5,316.5 415.3,335.3 416.5,359.5 410.5,358.8 409.0,347.4 409.7,335.3" fill="#ebaa37"/>
<polygon points="389.6,324.8 395.3,322.5 399.9,327.0 399.1,333.8 393.8,335.3 390.1,332.3" fill="#ebaa37"/>
<polygon points="416.5,304.4 421.0,303.6 422.6,308.1 418.0,308.9" fill="#ebaa37"/>
<polygon points="372.7,362.6 378.0,361.8 378.7,367.1 374.2,367.8" fill="#ebaa37"/>
<polygon points="350.0,332.3 359.1,335.3 362.1,339.9 360.6,350.5 356.0,353.5 348.5,355.0 348.5,332.3" fill="#ebaa37"/>
<polygon points="369.7,304.4 373.4,303.6 374.2,309.7 370.4,310.4" fill="#e6e600"/>
<polygon points="367.4,324.0 371.9,323.6 372.4,328.5 367.8,329.0" fill="#e6e600"/>
<polygon points="350.0,320.2 353.0,319.5 353.3,325.5 350.0,326.3" fill="#e6e600"/>
<polygon points="359.8,320.2 362.1,319.9 362.1,322.5 360.0,322.5" fill="#e6e600"/>
<polygon points="446.7,359.5 455.8,356.5 455.8,365.6 448.3,364.8" fill="#e6e600"/>
<polygon points="440.7,342.2 444.5,341.4 446.7,345.2 445.2,349.7 441.5,348.2" fill="#f58228"/>
<polygon points="443.7,320.2 455.8,318.7 455.8,326.3 448.3,327.8 444.5,324.8" fill="#f58228"/>
<polygon points="388.5,312.7 390.8,312.4 390.8,314.9 388.7,315.1" fill="#fa0000"/>
<polygon points="377.2,354.2 380.2,353.5 380.2,356.5 377.5,356.8" fill="#fa0000"/>
<polygon points="416.1,328.1 417.6,327.8 417.6,329.3 416.2,329.5" fill="#fa0000"/>
<polygon points="355.3,364.1 356.8,363.8 356.8,365.6 355.4,365.6" fill="#fa0000"/>
<polygon points="329.0,227.1 335.3,230.9 339.1,231.7 339.6,238.2 329.0,238.2" fill="#f58228"/>
<polygon points="348.2,233.2 353.5,231.7 355.0,236.9 350.5,238.2 347.4,238.2" fill="#f58228"/>
<polygon points="318.0,240.4 322.5,237.4 327.0,238.2 325.5,245.0 327.8,251.0 330.8,254.8 331.6,260.8 327.8,261.6 324.0,257.0 322.5,251.0 318.7,248.0 317.2,243.4" fill="#fa0000"/>
<polygon points="360.3,249.5 362.3,243.4 364.1,250.2 362.3,251.8" fill="#fa0000"/>
<polygon points="330.8,244.2 332.3,243.9 332.3,246.5 331.0,246.5" fill="#fa0000"/>
<polygon points="389.0,221.5 391.6,221.1 391.7,224.5 389.5,224.8" fill="#fa0000"/>
<polygon points="302.1,186.0 320.2,186.0 319.5,195.1 314.2,199.6 309.7,196.6 305.1,192.0" fill="#c80000"/>
<polygon points="330.8,197.3 335.3,195.1 338.4,198.8 336.1,203.4 331.6,202.6" fill="#c80000"/>
<polygon points="330.8,221.5 334.6,220.0 336.1,223.8 333.1,226.1" fill="#c80000"/>
<polygon points="321.0,193.6 324.8,192.0 326.3,196.6 322.5,198.1" fill="#c80000"/>
<polygon points="345.2,197.3 347.1,196.6 347.4,199.6 345.3,199.9" fill="#f58228"/>
<polygon points="351.2,204.9 352.7,204.4 353.2,210.2 351.4,210.5" fill="#f58228"/>
<polygon points="361.0,196.6 364.1,195.8 364.8,201.1 361.8,201.9" fill="#f58228"/>
<polygon points="349.7,224.5 353.5,223.8 354.2,228.3 350.5,229.1" fill="#f58228"/>
<polygon points="342.9,220.8 345.2,220.5 345.2,223.8 343.1,223.8" fill="#f58228"/>
<polygon points="290.0,232.9 303.6,235.9 305.1,241.9 309.7,246.5 312.7,251.0 309.7,253.3 305.1,249.5 299.1,248.0 294.5,252.5 290.0,252.5" fill="#ebaa37"/>
<polygon points="386.7,204.1 392.8,203.4 394.0,207.2 388.3,208.7" fill="#ebaa37"/>
<polygon points="383.7,220.8 388.3,220.0 389.0,226.8 384.5,226.8" fill="#ebaa37"/>
<polygon points="378.4,251.0 382.2,250.2 382.5,257.0 379.2,257.0" fill="#ebaa37"/>
<polygon points="170.0,190.5 174.5,192.0 179.1,198.1 179.8,205.7 176.0,208.7 170.0,207.2" fill="#e6e600"/>
<polygon points="170.0,213.2 176.0,212.5 181.3,216.2 182.8,225.3 179.1,232.9 173.0,234.4 170.0,231.3" fill="#e6e600"/>
<polygon points="202.5,199.6 206.3,192.0 210.8,189.0 213.8,195.1 214.6,202.6 210.8,207.2 205.5,206.4" fill="#e6e600"/>
<polygon points="201.7,212.5 204.8,211.7 205.5,214.7 202.5,215.5" fill="#e6e600"/>
<polygon points="194.9,231.3 200.2,229.1 207.0,231.3 205.1,238.9 203.6,246.5 200.2,252.5 194.2,257.0 189.7,260.1 188.9,254.0 191.2,248.0 194.2,243.4 194.9,237.4" fill="#e6e600"/>
<polygon points="204.8,232.9 213.8,235.9 216.9,241.9 218.4,249.5 215.3,254.0 207.8,254.8 202.5,252.5 204.0,243.4" fill="#e6e600"/>
<polygon points="216.9,255.5 220.6,254.0 222.2,258.6 218.4,260.8" fill="#e6e600"/>
<polygon points="266.7,231.3 275.8,229.8 275.8,237.4 268.3,236.6" fill="#e6e600"/>
<polygon points="170.0,260.1 173.0,261.6 174.5,267.6 170.0,267.6" fill="#6ecb6e"/>
<polygon points="181.3,229.8 185.1,226.8 188.1,229.8 185.9,235.9 182.1,237.4" fill="#f58228"/>
<polygon points="222.9,208.7 228.2,206.4 232.0,210.2 230.5,215.5 225.2,216.2" fill="#f58228"/>
<polygon points="214.6,207.9 218.4,208.7 218.1,211.7 214.9,211.4" fill="#f58228"/>
<polygon points="218.4,222.3 222.9,221.5 225.9,226.8 221.4,227.6" fill="#f58228"/>
<polygon points="245.6,248.0 252.4,247.2 253.1,254.0 247.1,256.3" fill="#f58228"/>
<polygon points="252.4,257.0 260.7,255.5 262.2,261.6 254.7,263.8" fill="#f58228"/>
<polygon points="242.6,190.5 248.6,189.0 250.1,195.1 244.8,197.3" fill="#ebaa37"/>
<polygon points="260.7,195.1 266.7,195.4 266.4,201.1 261.0,200.8" fill="#ebaa37"/>
<polygon points="254.7,222.3 260.7,222.6 260.4,229.8 255.0,229.5" fill="#ebaa37"/>
<polygon points="259.2,213.2 263.7,211.7 266.7,216.2 262.2,218.5" fill="#ebaa37"/>
<polygon points="255.4,209.4 258.4,207.9 261.5,210.9 260.7,217.0 256.9,218.5 255.4,214.7" fill="#fa0000"/>
<polygon points="251.6,223.8 255.4,220.8 256.9,226.1 253.1,229.8" fill="#fa0000"/>
<polygon points="232.7,234.4 238.0,230.6 244.1,228.3 244.8,234.4 241.0,238.2 236.5,237.4" fill="#fa0000"/>
<polygon points="262.2,186.0 268.3,186.0 266.0,188.3" fill="#fa0000"/>
<polygon points="150.0,273.2 154.5,270.9 159.1,267.2 163.6,268.7 165.1,274.7 160.6,279.3 156.0,280.8 152.3,285.3 150.0,286.8" fill="#ebaa37"/>
<polygon points="150.0,291.3 156.0,289.8 163.6,291.3 166.6,295.9 164.4,301.9 159.1,304.2 153.0,301.9 150.0,298.9" fill="#ebaa37"/>
<polygon points="172.7,268.7 178.0,265.7 182.5,267.2 184.0,273.2 181.7,278.5 184.0,283.8 182.5,290.6 178.7,285.3 175.7,278.5" fill="#ebaa37"/>
<polygon points="198.4,286.8 202.9,284.5 210.5,286.1 216.5,287.6 225.6,289.1 231.6,292.1 230.1,300.4 227.1,309.5 221.0,312.5 216.5,308.0 210.5,303.4 202.9,300.4 198.4,294.4" fill="#ebaa37"/>
<polygon points="201.4,315.5 205.9,313.3 210.5,315.5 209.7,320.8 204.4,321.6" fill="#ebaa37"/>
<polygon points="185.5,318.6 192.3,317.0 195.3,321.6 193.8,327.6 186.3,327.6" fill="#ebaa37"/>
<polygon points="205.9,265.7 209.7,264.1 211.2,270.2 207.4,271.7" fill="#e6e600"/>
<polygon points="216.5,255.1 220.3,253.6 222.6,258.1 218.8,260.4" fill="#e6e600"/>
<polygon points="248.3,264.1 251.3,263.4 252.0,268.7 249.0,269.0" fill="#e6e600"/>
<polygon points="232.4,249.0 237.7,246.0 243.7,246.0 240.7,255.1 235.4,256.6" fill="#f58228"/>
<polygon points="245.2,244.5 255.8,244.5 255.8,252.0 246.7,250.5" fill="#f58228"/>
<polygon points="221.8,265.7 224.8,265.3 224.8,267.5 222.0,267.5" fill="#f58228"/>
<polygon points="250.5,274.7 252.8,274.0 253.5,280.0 251.0,280.8" fill="#f58228"/>
<polygon points="166.6,256.6 168.9,255.8 172.7,262.6 174.9,270.2 172.7,271.7 169.7,264.9" fill="#6ecb6e"/>
<polygon points="192.3,298.9 194.6,298.2 195.0,302.7 192.8,304.2" fill="#6ecb6e"/>
<polygon points="236.2,304.2 238.4,299.7 242.2,298.2 245.5,301.2 246.0,308.0 243.0,312.5 239.2,312.5 236.5,308.7" fill="#6ecb6e"/>
<polygon points="238.0,304.2 239.9,300.4 243.0,300.4 244.5,305.0 243.0,310.2 239.9,311.0" fill="#00a000"/>
<polygon points="169.9,178.2 172.9,175.9 180.5,175.1 188.0,176.6 195.6,178.2 203.1,180.4 204.7,183.4 201.6,188.0 197.8,192.5 194.8,197.0 194.1,207.6 171.4,207.6 172.9,198.6 168.4,194.0 170.6,189.5 168.4,183.4" fill="#ebaa37"/>
<polygon points="154.0,188.0 157.0,185.7 160.8,181.9 163.8,178.2 165.3,178.9 163.8,182.7 160.1,186.5 156.3,190.2 154.5,189.5" fill="#6ecb6e"/>
<polygon points="151.0,176.6 153.3,176.6 153.3,178.9 151.0,178.9" fill="#6ecb6e"/>
<polygon points="134.4,207.6 135.9,202.3 138.9,200.1 142.7,199.3 144.9,201.6 144.2,207.6" fill="#6ecb6e"/>
<polygon points="168.0,210.4 175.6,212.6 180.1,214.9 182.4,218.7 181.6,224.7 178.6,230.8 175.6,233.8 172.6,232.3 170.3,228.5 168.0,226.2 165.0,224.7 162.7,223.2 165.3,216.4" fill="#e6e600"/>
<polygon points="143.8,277.6 145.3,271.6 149.9,267.0 155.2,264.0 159.7,262.5 163.5,264.8 165.0,270.1 164.2,277.6" fill="#ebaa37"/>
<polygon points="181.6,230.0 184.7,227.0 187.7,226.2 188.4,230.0 186.2,234.5 182.4,237.6 180.1,236.1" fill="#f58228"/>
<polygon points="232.9,305.1 235.2,299.0 240.5,296.0 248.0,296.8 251.0,302.0 250.3,309.6 247.3,315.7 243.5,318.7 239.7,315.7 235.9,311.1" fill="#e6e600"/>
<polygon points="235.9,305.1 238.2,299.8 242.0,297.8 245.8,299.8 246.5,305.8 244.2,311.1 240.5,312.9 237.4,310.4" fill="#6ecb6e"/>
<polygon points="237.9,305.1 239.3,301.3 242.0,300.1 244.2,302.0 244.2,306.6 242.0,310.4 239.7,310.8" fill="#00a000"/>
<polygon points="270.7,311.1 276.7,307.3 279.8,310.4 277.5,317.2 273.0,318.7" fill="#f58228"/>
<polygon points="272.2,339.8 276.7,334.5 279.0,336.8 278.3,345.9 273.7,345.9" fill="#e6e600"/>
<polygon points="186.0,183.8 195.1,180.8 203.4,182.3 206.4,183.8 207.2,189.9 205.7,195.9 202.6,200.5 204.1,205.0 208.7,208.0 213.2,206.5 215.5,200.5 217.0,194.4 220.0,192.2 223.8,200.5 225.3,203.5 231.3,204.2 234.4,206.5 232.9,215.6 235.1,221.6 186.0,221.6" fill="#ebaa37"/>
<polygon points="213.2,152.8 218.5,155.1 217.7,162.7 220.0,170.2 222.3,179.3 218.5,188.4 220.0,192.2 217.0,194.4 215.5,200.5 213.2,206.5 208.7,208.0 204.1,205.0 202.6,200.5 205.7,195.9 207.2,189.9 206.4,183.8 204.9,180.8" fill="#e6e600"/>
<polygon points="218.5,155.1 251.8,166.5 254.0,172.5 257.8,177.8 261.6,183.8 264.6,187.6 261.6,189.9 252.5,189.9 249.5,193.7 246.5,188.4 238.2,184.6 231.3,185.3 225.3,189.9 222.3,179.3 220.0,170.2 217.7,162.7" fill="#ebaa37"/>
<polygon points="252.5,189.9 264.6,189.1 265.4,203.5 253.3,202.7" fill="#ebaa37"/>
<polygon points="220.8,162.7 225.3,161.2 226.8,164.2 223.0,166.5" fill="#e6e600"/>
<polygon points="234.4,162.7 238.2,161.2 238.9,164.9 235.6,165.7" fill="#e6e600"/>
<polygon points="234.4,206.5 238.2,203.5 237.4,212.6 235.1,221.6 232.9,215.6" fill="#e6e600"/>
<polygon points="218.5,179.3 220.8,179.6 220.5,183.1 218.7,182.8" fill="#6ecb6e"/>
<polygon points="241.2,174.0 245.7,172.5 247.2,177.0 243.4,179.3" fill="#f58228"/>
<polygon points="225.3,189.9 231.3,185.3 238.2,184.6 246.5,188.4 249.5,193.7 245.0,199.0 237.4,200.5 229.8,199.0 226.1,195.9" fill="#f58228"/>
<polygon points="223.0,208.8 228.3,206.5 232.9,209.5 231.3,215.6 226.1,217.1 223.0,214.1" fill="#f58228"/>
<polygon points="255.5,208.8 259.3,207.3 261.6,212.6 259.3,217.1 256.3,215.6" fill="#fa0000"/>
<polygon points="415.0,248.5 422.5,246.6 426.9,249.8 425.0,257.2 423.8,264.8 420.0,267.2 421.2,272.2 417.5,273.5 415.6,267.2 416.9,261.0 414.4,256.0" fill="#ebaa37"/>
<polygon points="429.0,240.8 443.1,238.5 462.5,236.0 487.5,236.0 487.5,303.5 428.1,303.5 427.8,288.5 430.0,283.5 430.6,278.5 429.0,276.0 431.9,272.2 433.1,266.0 431.9,258.5 430.6,251.0" fill="#ebaa37"/>
<polygon points="430.0,241.0 441.2,239.1 443.8,242.2 437.5,246.0 432.5,248.5 430.6,246.0" fill="#f58228"/>
<polygon points="431.9,257.2 434.4,256.0 435.6,261.0 433.5,264.8" fill="#f58228"/>
<polygon points="442.5,262.9 447.5,261.6 451.2,264.1 450.0,267.2 446.2,268.2 443.1,266.6" fill="#f58228"/>
<polygon points="446.9,247.9 449.4,246.6 450.0,250.4 447.5,251.0" fill="#f58228"/>
<polygon points="400.6,258.5 403.8,257.2 406.2,263.5 405.0,268.5 401.9,267.2" fill="#ebaa37"/>
<polygon points="400.0,277.2 401.9,278.5 401.5,284.8 400.0,284.1" fill="#ebaa37"/>
<polygon points="422.2,283.2 424.4,283.2 424.4,285.4 422.2,285.4" fill="#fa0000"/>
<polygon points="432.2,284.8 435.6,284.1 436.9,289.8 433.8,291.0" fill="#e6e600"/>
<polygon points="471.9,289.1 475.0,287.9 476.2,294.8 473.1,296.0" fill="#e6e600"/>
<polygon points="476.2,281.0 481.2,279.8 481.9,282.9 476.9,283.5" fill="#e6e600"/>
<polygon points="483.1,257.2 486.2,256.6 486.2,262.2 483.8,261.6" fill="#e6e600"/>
<polygon points="471.9,237.9 473.8,237.5 474.0,239.5 472.1,239.8" fill="#e6e600"/>
<polygon points="495.5,190.1 499.3,189.2 501.9,200.6 504.5,209.3 507.2,218.0 505.4,219.8 501.9,211.0 498.4,202.3" fill="#f58228"/>
<polygon points="492.3,204.1 496.7,202.0 499.7,205.8 496.7,210.2 493.2,209.0" fill="#f58228"/>
<polygon points="485.7,209.3 489.7,207.6 490.9,211.9 487.1,213.1" fill="#f58228"/>
<polygon points="466.2,212.8 472.3,211.0 474.9,213.7 469.7,215.9" fill="#f58228"/>
<polygon points="462.7,229.4 468.8,228.1 470.0,233.4 464.1,234.1" fill="#f58228"/>
<polygon points="508.0,202.3 513.3,201.5 514.1,207.6 509.8,209.3" fill="#f58228"/>
<polygon points="450.5,233.7 457.4,232.0 459.2,239.0 452.2,240.7" fill="#f58228"/>
<polygon points="349.2,332.1 361.3,334.1 364.3,348.1 358.2,355.2 350.2,353.2 347.2,344.1" fill="#ebaa37"/>
</g>
<polygon points="180.5,138.1 178.2,140.4 175.2,141.1 171.4,140.8 168.1,139.9 164.9,139.6 164.0,145.7 162.8,151.7 161.1,157.0 160.4,160.2 157.8,164.5 154.5,169.8 151.0,175.1 147.2,179.7 144.6,182.5 141.5,186.5 139.3,192.5 138.4,196.0 136.6,201.6 134.4,205.8 136.3,200.5 132.5,205.8 131.0,208.8 131.7,212.6 130.2,218.7 128.7,224.7 129.5,230.0 131.0,233.8 130.2,235.6 132.5,238.3 131.0,241.3 130.2,245.9 131.0,251.9 130.2,256.5 131.0,262.5 132.5,268.6 133.3,275.8 131.9,277.3 136.5,281.1 141.0,285.7 145.5,290.2 147.8,294.0 150.1,298.5 152.3,302.3 152.3,310.1 180.0,324.0 189.1,330.8 196.6,336.1 202.7,340.6 221.6,344.4 228.4,346.2 229.6,341.3 245.3,344.1 247.3,348.2 251.0,354.2 255.6,359.5 258.6,364.0 261.6,370.8 264.7,375.8 272.7,381.0 276.5,376.5 280.2,373.4 286.3,373.1 293.8,376.5 297.6,382.5 299.9,388.5 302.9,393.8 306.7,399.1 308.2,405.2 310.5,410.5 316.5,415.0 324.1,419.5 328.9,421.0 329.8,418.0 329.7,413.5 327.8,406.7 326.3,402.2 328.6,398.4 331.6,395.0 334.7,392.3 338.4,389.6 343.7,387.8 348.3,386.3 354.0,381.0 354.4,379.6 359.7,377.5 365.4,376.3 371.7,375.5 377.8,377.0 383.1,375.8 389.9,378.5 392.9,380.8 397.4,381.6 400.5,379.3 402.7,378.8 405.0,377.8 407.3,379.6 411.0,381.6 413.5,380.5 413.8,379.0 411.0,377.3 408.8,375.8 411.0,373.6 414.1,372.5 414.4,369.5 411.0,368.7 412.6,367.2 415.6,365.7 420.1,364.9 422.4,361.9 423.9,364.9 426.9,363.0 430.7,362.7 436.7,361.9 444.0,361.2 448.1,366.5 452.7,368.3 455.7,364.9 459.5,361.9 464.0,362.7 468.5,365.7 473.8,369.5 476.9,374.0 478.1,380.5 480.6,385.3 482.9,389.9 486.7,393.7 489.7,397.4 493.5,401.2 498.0,405.0 502.6,408.0 507.1,407.3 510.1,404.2 510.9,399.0 509.4,391.4 507.1,385.3 503.3,379.3 498.8,373.3 495.8,369.0 490.5,361.9 486.7,356.6 483.7,351.3 482.2,346.0 482.2,340.0 482.5,341.6 482.9,338.6 484.0,332.5 485.5,328.0 490.0,323.4 493.8,318.9 495.6,314.4 497.6,310.6 501.3,306.8 504.4,303.8 506.6,298.5 509.7,294.7 508.9,291.7 511.9,288.7 509.7,285.7 512.7,283.4 510.4,280.4 511.9,277.3 509.7,275.1 508.2,272.0 505.9,269.0 504.4,266.0 507.0,270.1 509.6,267.0 511.5,261.0 512.3,255.0 512.3,248.9 510.0,246.6 508.5,243.6 507.0,239.8 505.5,236.1 508.5,238.6 510.8,244.1 513.0,239.8 514.1,233.8 513.8,228.5 512.3,226.2 511.0,226.0 512.9,224.1 516.0,221.0 519.8,217.9 522.9,215.4 525.4,213.5 526.0,211.0 527.9,209.8 529.8,209.1 531.6,207.2 534.1,206.0 535.8,204.1 534.1,201.6 532.2,202.9 531.6,205.4 529.1,204.1 526.6,201.0 526.0,197.9 525.0,193.5 525.4,188.5 526.6,184.8 526.6,183.4 528.2,181.2 530.4,177.4 532.7,175.1 535.0,172.1 537.2,169.8 539.5,167.6 541.8,166.1 540.2,163.0 538.0,162.0 534.2,162.0 530.7,160.0 528.2,156.2 525.9,150.9 521.3,148.7 517.6,150.2 515.0,150.9 513.8,156.2 513.5,163.8 515.0,169.8 514.5,174.4 512.3,177.4 508.5,181.2 498.7,185.0 494.1,186.5 490.4,188.7 487.3,191.8 485.4,197.0 483.6,201.6 482.0,205.8 498.1,184.1 492.5,187.2 488.8,190.4 486.2,194.1 484.4,197.9 482.5,200.6 481.2,205.4 478.8,207.2 473.8,209.2 470.0,211.1 467.5,213.5 467.8,216.2 468.8,219.1 466.2,221.6 463.1,224.1 460.0,227.2 456.2,230.4 452.5,232.9 448.8,235.4 445.0,237.2 442.5,238.5 443.1,240.0 442.5,238.5 441.2,235.4 442.5,232.2 443.1,228.5 442.5,224.8 441.9,221.0 440.6,217.2 439.4,214.5 438.1,214.1 435.0,214.8 433.1,217.2 431.2,217.5 432.5,214.8 433.8,211.0 434.0,207.2 433.1,203.5 431.2,200.4 427.5,198.5 423.5,197.2 422.8,197.9 420.6,199.8 419.0,202.2 418.1,206.0 415.6,211.0 413.8,215.4 412.8,219.8 413.1,224.8 414.4,229.8 415.6,234.8 416.5,239.1 415.0,242.2 412.5,243.8 410.6,243.8 407.5,241.0 405.6,236.0 404.4,229.8 404.0,223.5 403.5,217.2 401.9,216.0 401.2,214.1 401.9,211.0 403.5,207.5 406.0,204.5 408.8,202.5 411.9,200.8 415.0,199.0 418.8,197.8 422.8,196.9 425.2,195.9 423.0,194.6 420.2,193.0 416.5,192.8 411.5,194.2 407.1,196.0 404.0,195.2 399.6,193.6 396.8,192.1 398.4,188.6 396.8,187.4 395.2,188.8 392.8,191.1 389.0,193.6 384.0,197.1 381.5,196.2 379.0,194.0 375.9,195.2 372.8,196.5 372.8,195.9 375.9,192.1 379.0,188.4 382.8,185.0 383.4,184.6 375.2,182.8 369.0,181.5 364.0,179.0 362.5,178.7 356.5,176.4 356.0,174.1 352.7,173.8 348.9,176.4 349.2,176.2 336.1,176.2 318.5,175.4 293.0,172.8 268.3,168.5 243.7,162.4 219.3,154.5 213.5,152.3 196.1,145.1 180.3,137.7" fill="none" stroke="#000" stroke-width="1.6" stroke-linejoin="round"/>
<polygon points="130.7,235.6 134.0,236.1 137.8,237.6 140.5,240.1 137.0,239.4 134.0,239.8 132.5,242.1 131.0,241.3" fill="#000"/>
<polygon points="145.3,211.1 148.1,211.1 148.7,212.9 146.1,213.2" fill="#000"/>
<polygon points="213.4,159.6 215.5,159.6 215.8,162.0 213.7,162.3" fill="#000"/>
<polygon points="155.7,196.7 157.2,196.7 157.5,200.1 156.0,200.4" fill="#000"/>
<polygon points="130.4,282.9 132.7,283.4 137.2,285.7 136.9,286.6 132.7,284.9 130.4,283.8" fill="#000"/>
<polygon points="142.0,299.6 143.0,299.6 143.0,302.6 142.0,302.6" fill="#000"/>
<polygon points="143.6,295.0 145.7,296.2 145.4,297.1 143.6,295.9" fill="#000"/>
<polygon points="134.2,293.7 135.7,293.7 135.7,294.6 134.2,294.6" fill="#000"/>
<polygon points="126.3,339.8 127.8,339.8 127.7,344.0 126.3,344.0" fill="#000"/>
<polygon points="208.4,365.2 212.5,367.8 208.7,370.4" fill="#000"/>
<polygon points="240.5,328.0 242.3,327.0 241.7,330.5 240.2,331.5" fill="#000"/>
<polygon points="353.3,377.5 356.3,376.7 356.9,379.6 353.9,380.5" fill="#000"/>
<polygon points="381.6,374.8 385.3,374.5 385.8,377.0 382.0,377.2" fill="#000"/>
<polygon points="477.8,380.8 480.2,381.1 481.1,384.6 478.7,384.1" fill="#000"/>
<polygon points="485.2,391.4 488.2,392.9 489.3,396.2 486.2,394.7" fill="#000"/>
<polygon points="494.2,368.0 497.3,369.5 498.3,373.0 495.9,371.0" fill="#000"/>
<polygon points="482.2,352.8 484.1,354.4 484.7,359.7 482.9,357.4" fill="#000"/>
<polygon points="483.5,327.2 486.2,326.2 487.0,328.7 484.4,330.2" fill="#000"/>
<polygon points="478.4,275.4 480.9,275.1 481.4,277.3 478.7,277.8" fill="#000"/>
<polygon points="529.8,208.2 532.2,208.2 532.2,210.4 529.8,210.4" fill="#000"/>
<polygon points="535.4,207.6 537.2,207.6 537.2,209.2 535.4,209.2" fill="#000"/>
<polygon points="531.6,201.0 536.0,201.6 536.2,204.8 533.5,207.0 532.0,206.0 533.5,203.8 532.2,202.5" fill="#000"/>
<polygon points="525.9,137.3 529.2,134.3 531.9,136.3 528.9,136.9" fill="#000"/>
<polygon points="476.0,171.3 477.5,172.1 477.2,175.1 476.0,175.1" fill="#000"/>
<polygon points="264.5,181.0 267.8,181.7 271.6,181.4 275.3,179.9 277.6,180.2 277.6,184.0 275.3,182.5 271.6,183.3 267.8,183.6 265.1,183.0" fill="#000"/>
<polygon points="239.1,185.5 240.9,187.0 239.4,188.8" fill="#000"/>
<polygon points="241.3,206.7 244.4,208.7 242.1,210.8" fill="#000"/>
<polygon points="236.8,202.2 238.3,202.2 238.3,206.7 237.1,206.7" fill="#000"/>
<polygon points="348.1,175.3 350.4,173.4 353.4,173.8 356.5,174.4 356.0,176.4 352.7,175.7 349.7,176.9" fill="#000"/>
<polygon points="360.2,176.9 362.5,176.4 366.3,178.7 365.5,180.2 362.5,179.0" fill="#000"/>
<polygon points="371.6,174.9 373.8,174.9 373.8,177.2 371.6,177.2" fill="#000"/>
<polygon points="358.7,201.0 361.0,200.1 362.0,202.9 359.9,204.7 358.4,203.2" fill="#000"/>
<polygon points="396.5,219.5 399.2,219.2 399.5,223.3 397.1,223.4" fill="#000"/>
<polygon points="394.2,188.0 396.5,187.4 397.3,190.5 395.0,192.3" fill="#000"/>
<polygon points="387.4,178.4 391.2,177.9 392.0,181.7 390.5,184.7 388.2,183.2" fill="#000"/>
<polygon points="262.5,232.8 264.0,232.8 264.0,237.3 262.5,237.3" fill="#000"/>
<polygon points="266.0,257.0 267.8,257.0 267.8,258.5 266.0,258.5" fill="#000"/>
<polygon points="410.1,292.5 411.9,292.2 413.1,298.6 411.3,298.9" fill="#000"/>
<polygon points="400.7,291.3 402.3,291.0 402.9,295.2 401.3,295.8" fill="#000"/>
<polygon points="409.7,292.3 411.7,291.8 413.5,302.1 412.0,303.6" fill="#000"/>
<polygon points="431.6,326.0 433.4,325.5 432.8,328.5 431.3,328.5" fill="#000"/>
<polygon points="430.4,333.1 432.4,333.1 432.8,335.3 430.9,335.7" fill="#000"/>
<polygon points="449.8,312.7 452.8,312.4 452.8,316.9 450.1,316.9" fill="#000"/>
<polygon points="358.3,201.1 360.7,200.8 361.0,204.1 358.6,204.4" fill="#000"/>
<polygon points="217.6,186.8 219.9,186.8 219.9,189.8 217.6,189.8" fill="#000"/>
<polygon points="216.1,218.5 219.9,218.0 223.7,217.4 223.7,219.6 219.9,219.9 216.3,220.0" fill="#000"/>
<polygon points="241.0,206.4 243.8,206.9 244.1,210.9 241.7,210.2" fill="#000"/>
<polygon points="261.5,232.1 263.7,232.1 263.4,238.9 261.6,238.9" fill="#000"/>
<polygon points="184.0,280.0 187.0,281.5 190.1,277.0 191.6,278.5 190.5,282.3 193.1,283.0 193.8,286.1 191.6,283.8 188.5,283.8 185.5,283.0" fill="#000"/>
<polygon points="214.2,279.3 219.5,277.7 224.1,274.0 225.6,273.2 224.8,275.5 220.3,279.3 215.0,280.5" fill="#000"/>
<polygon points="226.1,166.5 228.3,165.7 229.1,169.5 226.8,171.0" fill="#000"/>
<polygon points="238.2,185.3 240.1,185.0 240.4,188.4 238.5,188.7" fill="#000"/>
<polygon points="241.2,206.5 243.4,207.3 243.1,211.0 241.3,209.8" fill="#000"/>
<polygon points="213.2,158.9 215.5,159.3 215.0,162.1 213.2,161.6" fill="#000"/>
<polygon points="386.5,177.8 389.6,177.1 390.9,180.2 390.2,184.0 387.8,183.8 387.1,180.9" fill="#000"/>
<polygon points="371.8,175.9 373.8,175.9 373.8,177.8 371.8,177.8" fill="#000"/>
<polygon points="415.0,201.0 416.9,200.8 416.9,203.5 415.2,203.8" fill="#000"/>
<polygon points="415.6,207.0 418.1,206.6 418.1,210.0 416.0,210.5" fill="#000"/>
<polygon points="441.0,228.5 443.8,228.2 443.8,232.5 441.2,232.5" fill="#000"/>
<polygon points="443.2,162.7 446.7,162.1 450.3,164.1 449.9,166.1 446.2,165.1 443.4,164.5" fill="#000"/>
<polygon points="462.3,168.5 466.3,167.7 469.3,169.1 472.3,171.7 470.3,173.3 466.3,171.7 462.7,171.1" fill="#000"/>
<polygon points="475.3,172.1 477.9,172.5 478.3,175.3 475.7,174.9" fill="#000"/>
<polygon points="473.3,156.1 476.3,153.1 478.7,154.1 482.4,156.1 480.3,158.1 477.3,159.1 474.3,158.7" fill="#000"/>
<polygon points="455.1,171.7 456.7,171.7 456.7,173.7 455.1,173.7" fill="#000"/>
<polygon points="180.2,360.5 184.2,359.7 185.2,363.7 181.2,364.5" fill="#000"/>
<polygon points="151.1,360.1 154.2,360.5 153.8,364.5 151.3,363.7" fill="#000"/>
<polygon points="158.2,367.1 162.2,368.1 161.2,370.1 158.6,369.1" fill="#000"/>
<polygon points="180.2,388.2 183.2,388.2 183.2,390.6 180.2,390.6" fill="#000"/>
<polygon points="183.2,398.2 186.2,398.2 186.2,400.6 183.2,400.6" fill="#000"/>
<polygon points="186.2,411.2 189.3,411.2 189.3,413.6 186.2,413.6" fill="#000"/>
<polygon points="169.2,407.2 173.2,409.2 175.8,414.2 172.2,413.8 169.8,410.2" fill="#000"/>
<polygon points="126.1,340.0 127.7,340.0 127.7,344.4 126.1,344.4" fill="#000"/>
<polygon points="208.3,365.1 212.3,367.7 208.7,370.5" fill="#000"/>
<polygon points="214.7,351.7 216.3,351.7 216.3,353.3 214.7,353.3" fill="#000"/>
<polygon points="203.3,379.1 205.3,379.1 205.3,381.5 203.3,381.5" fill="#000"/>
<polygon points="212.3,398.2 214.7,397.8 215.1,399.8 212.5,400.0" fill="#000"/>
<polygon points="204.3,406.2 208.3,408.6 210.3,413.2 207.3,412.2 204.7,409.2" fill="#000"/>
<polygon points="244.0,393.2 248.1,393.2 248.1,394.8 244.0,394.8" fill="#000"/>
<polygon points="519.1,384.2 522.6,382.8 528.2,383.8 528.6,385.8 523.2,387.2 519.7,386.6" fill="#000"/>
<polygon points="537.2,380.1 540.6,382.6 541.0,388.6 539.0,387.2 538.2,383.2" fill="#000"/>
<polygon points="552.2,393.8 555.2,394.6 555.8,398.6 553.4,397.4" fill="#000"/>
<polygon points="558.3,397.2 562.3,398.2 561.9,399.8 558.3,398.8" fill="#000"/>
<polygon points="532.2,405.2 535.2,405.2 535.2,408.2 532.2,408.2" fill="#000"/>
<polygon points="174.1,132.5 175.4,135.6 177.2,136.9 178.5,133.8 180.4,136.2 179.8,141.2 178.5,144.4 176.0,146.2 177.9,148.8 176.6,152.5 173.5,153.8 170.4,153.1 169.8,150.6 171.6,148.1 174.1,145.0 172.9,142.5 174.8,140.0" fill="#000"/>
<polygon points="164.1,130.0 169.1,130.0 169.8,131.2 166.0,131.5" fill="#000"/>
<polygon points="512.0,227.2 514.8,224.1 519.8,219.8 524.5,216.2 525.0,217.5 521.0,221.2 516.0,225.4 512.9,228.2" fill="#ebaa37" stroke="#000" stroke-width="1.2" stroke-linejoin="round"/>
<polyline points="293.5,181.3 298.0,182.0 301.0,184.5 303.3,188.1 307.1,188.8 310.1,189.3" fill="none" stroke="#000" stroke-width="2.2" stroke-linejoin="round"/>
<polyline points="312.5,196.9 313.3,201.4 312.5,207.4 313.3,212.0 311.8,216.5 312.8,219.2 313.3,224.1" fill="none" stroke="#000" stroke-width="2.2" stroke-linejoin="round"/>
<polyline points="312.7,197.3 313.4,204.1 312.7,210.2 313.9,214.7 311.5,217.0 312.1,219.3" fill="none" stroke="#000" stroke-width="2.2" stroke-linejoin="round"/>
<polyline points="318.7,226.1 321.0,230.6 324.8,234.4 326.3,235.9" fill="none" stroke="#000" stroke-width="2.2" stroke-linejoin="round"/>
<polyline points="494.8,257.2 492.2,255.4 489.8,252.9 488.5,249.8" fill="none" stroke="#000" stroke-width="1.6" stroke-linejoin="round"/>
<polyline points="501.0,261.0 497.2,260.4 494.8,259.5" fill="none" stroke="#000" stroke-width="1.6" stroke-linejoin="round"/>
<polyline points="507.2,269.1 504.1,269.8 501.0,269.1" fill="none" stroke="#000" stroke-width="1.6" stroke-linejoin="round"/>
<polyline points="509.8,272.2 507.2,274.1 504.1,274.8" fill="none" stroke="#000" stroke-width="1.6" stroke-linejoin="round"/>
<polyline points="513.5,276.0 510.4,277.2 507.2,278.5 506.0,280.4" fill="none" stroke="#000" stroke-width="1.6" stroke-linejoin="round"/>
<polyline points="514.8,281.0 511.6,282.2 509.1,284.8" fill="none" stroke="#000" stroke-width="1.6" stroke-linejoin="round"/>
<polyline points="504.1,241.0 506.0,244.8 509.1,247.2" fill="none" stroke="#000" stroke-width="1.6" stroke-linejoin="round"/>
<polygon points="501.0,242.2 499.1,243.5 497.9,248.5 499.1,252.9 496.0,254.8 494.8,257.2 497.9,259.1 501.0,261.0 502.9,263.5 505.4,266.6 507.2,269.1 509.5,270.0 509.1,266.6 507.9,264.8 506.6,261.6 506.0,257.9 504.1,254.8 505.4,251.0 504.1,246.6 502.9,242.9" fill="#fff" stroke="#000" stroke-width="2.4" stroke-linejoin="round"/>
<polygon points="497.6,387.2 499.2,385.3 501.8,385.8 502.6,388.4 501.0,390.5 498.3,390.2" fill="#fff" stroke="#000" stroke-width="1.3" stroke-linejoin="round"/>
<polygon points="348.4,185.5 350.4,184.0 353.4,184.4 353.1,186.5 350.4,187.1" fill="#fff" stroke="#000" stroke-width="1.3" stroke-linejoin="round"/>
<polygon points="216.6,231.0 218.4,230.6 220.2,235.9 220.6,240.4 218.7,241.2 217.2,238.2 216.3,234.4" fill="#fff" stroke="#000" stroke-width="1.3" stroke-linejoin="round"/>
<polyline points="152.3,310.1 153.1,315.9 153.8,323.4 153.5,330.2" fill="none" stroke="#000" stroke-width="1.3" stroke-linejoin="round"/>
<polyline points="167.0,330.2 167.4,326.5 168.2,322.7 170.5,325.0 175.0,328.3 177.3,330.2" fill="none" stroke="#000" stroke-width="1.3" stroke-linejoin="round"/>
<polyline points="165.2,303.8 167.1,304.5 167.7,307.6 165.9,308.3 164.9,306.1 165.2,303.8" fill="none" stroke="#000" stroke-width="1.3" stroke-linejoin="round"/>
<polyline points="180.0,334.5 182.3,339.8 182.7,348.9 183.0,356.5 186.0,365.5 190.6,375.8" fill="none" stroke="#000" stroke-width="1.3" stroke-linejoin="round"/>
<polyline points="181.5,361.0 183.8,359.5 184.5,362.5 182.3,364.0 181.5,361.0" fill="none" stroke="#000" stroke-width="1.3" stroke-linejoin="round"/>
<polyline points="328.9,421.0 329.7,425.6 325.6,428.3 326.3,429.8" fill="none" stroke="#000" stroke-width="1.3" stroke-linejoin="round"/>
<polyline points="510.9,405.0 508.9,409.2" fill="none" stroke="#000" stroke-width="1.3" stroke-linejoin="round"/>
<polyline points="507.1,410.7 504.1,413.3" fill="none" stroke="#000" stroke-width="1.3" stroke-linejoin="round"/>
<polyline points="502.3,414.4 498.0,417.4" fill="none" stroke="#000" stroke-width="1.3" stroke-linejoin="round"/>
<polyline points="510.7,294.3 514.2,292.9 516.5,290.2 519.5,285.3 520.4,282.3 518.7,278.8 515.7,275.8 512.7,272.8 509.7,269.8" fill="none" stroke="#000" stroke-width="1.3" stroke-linejoin="round"/>
<polyline points="522.1,127.5 516.8,133.6 513.0,139.6 511.5,145.7 510.0,150.9 509.0,156.2 506.2,162.3" fill="none" stroke="#000" stroke-width="1.3" stroke-linejoin="round"/>
<polyline points="512.3,132.8 510.0,138.1 509.0,144.1 508.5,150.2" fill="none" stroke="#000" stroke-width="1.3" stroke-linejoin="round"/>
<polyline points="499.4,147.2 508.5,145.7" fill="none" stroke="#000" stroke-width="1.3" stroke-linejoin="round"/>
<polyline points="490.7,148.7 492.9,147.2 495.7,148.7 493.4,150.2 490.7,148.7" fill="none" stroke="#000" stroke-width="1.3" stroke-linejoin="round"/>
<polyline points="493.4,178.6 495.7,178.2 495.3,181.9 493.4,181.6 493.4,178.6" fill="none" stroke="#000" stroke-width="1.3" stroke-linejoin="round"/>
<polyline points="547.0,165.3 548.6,169.1 550.4,172.1" fill="none" stroke="#000" stroke-width="1.3" stroke-linejoin="round"/>
<polyline points="541.0,162.3 543.3,160.0 544.8,157.4" fill="none" stroke="#000" stroke-width="1.3" stroke-linejoin="round"/>
<polyline points="383.4,184.6 387.1,180.9 389.0,177.8 392.1,174.6 394.0,173.0 399.0,174.0 405.2,173.8 407.1,176.5 409.6,179.0 414.0,179.6 415.9,182.8 418.4,187.1 419.0,190.9 420.2,192.8" fill="none" stroke="#000" stroke-width="1.3" stroke-linejoin="round"/>
<polyline points="390.2,179.6 399.0,182.8 407.8,185.9 414.0,188.4 419.0,190.9" fill="none" stroke="#000" stroke-width="1.3" stroke-linejoin="round"/>
<polyline points="420.2,193.0 425.2,194.0 430.2,193.4 436.5,192.5 441.5,193.0 446.5,192.1 450.0,194.0" fill="none" stroke="#000" stroke-width="1.3" stroke-linejoin="round"/>
<polyline points="419.4,192.2 427.5,192.9 435.0,192.0 442.5,192.5 447.5,194.1 451.2,197.2 455.0,200.4 458.1,202.2 455.0,202.9 451.2,201.6 446.9,200.4 443.8,201.0 445.0,204.8 446.9,209.8 447.5,214.8 446.9,219.8 445.6,223.5 444.0,227.9" fill="none" stroke="#000" stroke-width="1.3" stroke-linejoin="round"/>
<polyline points="423.8,195.4 431.2,196.6 437.5,199.8 441.2,204.8 443.8,211.0 445.0,218.5 444.4,226.0" fill="none" stroke="#000" stroke-width="1.3" stroke-linejoin="round"/>
<polyline points="443.1,237.9 445.0,235.4 448.8,232.2 452.5,229.1 456.9,226.0 461.2,222.2 465.0,219.1 468.1,217.2" fill="none" stroke="#000" stroke-width="1.3" stroke-linejoin="round"/>
<polyline points="443.5,239.1 446.9,236.6 451.2,233.5 455.0,231.0 459.4,227.5 463.8,223.5 466.9,220.4 468.8,217.9" fill="none" stroke="#000" stroke-width="1.3" stroke-linejoin="round"/>
<polyline points="458.8,202.0 461.2,201.6 462.5,203.5 460.6,204.8 458.8,202.0" fill="none" stroke="#000" stroke-width="1.3" stroke-linejoin="round"/>
<polyline points="481.9,199.1 477.5,201.0 472.5,204.1 467.5,207.2 463.8,209.8 461.9,212.2 462.5,215.4 465.6,216.0 467.5,215.8" fill="none" stroke="#000" stroke-width="1.3" stroke-linejoin="round"/>
<polyline points="481.2,202.9 477.5,205.4 472.5,207.2 467.5,209.8 464.4,212.9" fill="none" stroke="#000" stroke-width="1.3" stroke-linejoin="round"/>
<polyline points="450.6,176.0 453.1,179.8 455.6,181.6" fill="none" stroke="#000" stroke-width="1.3" stroke-linejoin="round"/>
<polyline points="493.1,178.5 495.6,178.2 495.6,182.2 493.1,182.2 493.1,178.5" fill="none" stroke="#000" stroke-width="1.3" stroke-linejoin="round"/>
<polyline points="404.0,217.9 404.4,212.9 405.6,208.5 407.5,204.8 408.8,203.2" fill="none" stroke="#000" stroke-width="1.3" stroke-linejoin="round"/>
<polyline points="153.2,330.0 153.8,340.0 157.2,348.1 162.2,356.1 164.2,362.1 160.2,366.1 152.2,367.1 155.2,370.1 160.2,373.1 164.2,380.1 169.2,386.2 173.2,392.2 175.2,399.2 173.2,406.2 170.2,409.2 171.2,412.2 175.2,414.2" fill="none" stroke="#000" stroke-width="1.3" stroke-linejoin="round"/>
<polyline points="165.2,330.0 166.2,342.0 169.2,350.1 172.2,358.1 175.2,365.1 177.2,373.1 179.2,381.1 181.2,388.2 183.2,396.2 185.2,403.2 186.7,410.2 188.3,417.3" fill="none" stroke="#000" stroke-width="1.3" stroke-linejoin="round"/>
<polyline points="177.2,330.0 181.2,336.0 183.2,344.0 182.6,352.1 184.2,360.1 187.3,368.1 192.3,376.1 196.3,382.6 199.3,390.2 203.3,396.2 204.3,403.2 203.3,407.2 208.3,412.2 213.3,418.3 216.3,424.3 219.3,425.3" fill="none" stroke="#000" stroke-width="1.3" stroke-linejoin="round"/>
<polyline points="172.2,353.1 174.2,352.1 175.8,358.1 173.8,360.1 172.2,353.1" fill="none" stroke="#000" stroke-width="1.3" stroke-linejoin="round"/>
<polyline points="519.1,385.2 522.2,383.2 528.2,384.2 530.2,380.1 536.2,379.1 540.2,382.2 540.6,388.2" fill="none" stroke="#000" stroke-width="1.3" stroke-linejoin="round"/>
<polyline points="546.2,390.2 550.2,392.2 554.2,394.2 555.2,398.2" fill="none" stroke="#000" stroke-width="1.3" stroke-linejoin="round"/>
<polyline points="532.2,400.2 537.2,403.2 540.2,407.2" fill="none" stroke="#000" stroke-width="1.3" stroke-linejoin="round"/>
<polyline points="536.2,393.2 534.2,397.2" fill="none" stroke="#000" stroke-width="1.3" stroke-linejoin="round"/>
<polyline points="539.2,399.2 542.2,398.2" fill="none" stroke="#000" stroke-width="1.3" stroke-linejoin="round"/>
<polyline points="165.8,131.9 167.2,136.2 170.4,140.6 173.5,142.5" fill="none" stroke="#000" stroke-width="1.3" stroke-linejoin="round"/>
<polyline points="213.5,152.3 211.7,157.0 209.9,161.6 208.1,166.3 206.2,171.0 204.4,175.8 203.7,179.9" fill="none" stroke="#000" stroke-width="1.1" stroke-linejoin="round"/>
<polyline points="203.7,179.9 200.4,178.7 197.1,177.4 193.9,176.0 190.6,174.7" fill="none" stroke="#000" stroke-width="1.1" stroke-linejoin="round"/>
<polyline points="195.2,200.1 193.1,205.7 190.9,211.4 188.7,217.0" fill="none" stroke="#000" stroke-width="1.1" stroke-linejoin="round"/>
<polyline points="139.5,194.6 142.9,196.4 146.3,198.2 149.7,199.9 153.1,201.6 156.5,203.2 160.0,204.9 163.5,206.5 166.9,208.0 170.4,209.6 173.9,211.1 177.5,212.6 181.0,214.0 184.5,215.4 188.1,216.8 191.7,218.2 195.2,219.5 198.8,220.8 202.4,222.0 206.1,223.3 209.7,224.4 213.3,225.6 217.0,226.7 220.6,227.8 224.3,228.9 228.0,229.9 231.7,230.9" fill="none" stroke="#000" stroke-width="1.1" stroke-linejoin="round"/>
<polyline points="168.0,208.5 165.9,213.2 163.9,217.8 161.8,222.5 159.7,227.2 157.6,232.0 155.5,236.7 157.8,242.3 160.2,247.8 162.7,253.4 165.3,259.0 168.0,264.6 170.7,270.2 173.5,275.8 176.5,281.4 179.5,287.0 182.5,292.6" fill="none" stroke="#000" stroke-width="1.1" stroke-linejoin="round"/>
<polyline points="210.0,224.6 208.4,229.4 206.9,234.3 205.3,239.1 203.7,244.0 202.1,249.0 200.5,253.9 198.9,258.9 197.3,263.8 195.7,268.8 194.1,273.9 191.3,282.5 188.2,282.0 185.1,281.9 184.3,286.4 182.5,292.6" fill="none" stroke="#000" stroke-width="1.1" stroke-linejoin="round"/>
<polyline points="182.5,292.6 182.8,296.0 184.3,301.1 179.7,304.2 176.2,308.8 176.6,313.5 173.9,315.8" fill="none" stroke="#000" stroke-width="1.1" stroke-linejoin="round"/>
<polyline points="194.1,273.9 198.2,275.2 202.3,276.4 206.4,277.7 210.6,278.9 214.7,280.0 218.9,281.2 223.1,282.3 227.3,283.3 231.5,284.3 235.7,285.3 239.9,286.2 244.1,287.2 248.4,288.0 252.6,288.8 256.9,289.6 261.1,290.4 265.4,291.1 269.6,291.8 273.9,292.4 278.2,293.0 282.5,293.6 286.8,294.1 291.1,294.6 295.3,295.0 299.7,295.4 304.0,295.8 308.3,296.1 312.6,296.4 316.9,296.7 321.2,296.9 325.5,297.1 329.8,297.2 334.2,297.3 338.5,297.4 342.8,297.4 347.1,297.4 351.4,297.3 355.7,297.2" fill="none" stroke="#000" stroke-width="1.1" stroke-linejoin="round"/>
<polyline points="231.7,230.9 230.3,235.9 229.0,240.8 232.8,241.8 236.5,242.7 240.3,243.6 244.0,244.5 247.8,245.4 251.6,246.2 255.3,247.0 259.1,247.7 262.9,248.4 266.7,249.1 270.5,249.8 274.4,250.4 278.2,251.0 282.0,251.5 285.8,252.0 289.7,252.5 293.5,253.0 297.3,253.4" fill="none" stroke="#000" stroke-width="1.1" stroke-linejoin="round"/>
<polyline points="239.4,201.8 238.1,206.6 236.8,211.5 235.6,216.3 234.3,221.2 233.0,226.0 231.7,230.9" fill="none" stroke="#000" stroke-width="1.1" stroke-linejoin="round"/>
<polyline points="239.4,201.8 242.8,202.7 246.2,203.6 249.6,204.4 253.0,205.2 256.5,206.0 259.9,206.7 263.3,207.4 266.8,208.1 270.2,208.8 273.7,209.4 277.2,210.0 280.6,210.5 284.1,211.1 287.6,211.6" fill="none" stroke="#000" stroke-width="1.1" stroke-linejoin="round"/>
<polyline points="293.0,172.8 292.3,177.6 291.6,182.4 291.0,187.2 290.3,192.0 289.6,196.9 288.9,201.8 288.3,206.7 287.6,211.6 286.9,216.5 286.2,221.4 285.5,226.4 284.8,231.4 284.1,236.4 283.4,241.4 282.7,246.4 282.0,251.5" fill="none" stroke="#000" stroke-width="1.1" stroke-linejoin="round"/>
<polyline points="288.9,202.4 292.5,202.8 296.1,203.3 299.8,203.7 303.4,204.1 307.1,204.5 310.7,204.8 314.4,205.1 318.1,205.3 321.7,205.5 325.4,205.7 329.1,205.9 332.7,206.0 336.4,206.1 340.1,206.1" fill="none" stroke="#000" stroke-width="1.1" stroke-linejoin="round"/>
<polyline points="284.8,231.4 288.5,231.9 292.2,232.3 295.9,232.8 299.6,233.2 303.3,233.5 307.0,233.9 310.7,234.2 314.4,234.5 318.1,234.7 321.8,234.9 325.5,235.1 329.9,236.7 335.1,237.9 338.8,239.4 340.6,240.6" fill="none" stroke="#000" stroke-width="1.1" stroke-linejoin="round"/>
<polyline points="297.3,253.4 296.8,258.5 296.3,263.6 295.7,268.7 295.2,273.9 294.7,279.1 294.1,284.3 293.6,289.5 293.0,294.8" fill="none" stroke="#000" stroke-width="1.1" stroke-linejoin="round"/>
<polyline points="296.3,263.6 300.4,264.0 304.5,264.4 308.5,264.7 312.6,265.0 316.7,265.3 320.8,265.5 324.9,265.7 329.0,265.8 333.1,265.9 337.2,266.0 341.3,266.0 345.5,266.0 349.6,266.0" fill="none" stroke="#000" stroke-width="1.1" stroke-linejoin="round"/>
<polyline points="244.0,244.5 242.9,249.6 241.7,254.7 240.5,259.8 239.3,265.0 238.1,270.2 236.9,275.4 235.7,280.6 234.5,285.8 233.3,291.1 232.1,296.4 230.9,301.7 229.7,307.0 228.4,312.4 227.2,317.8 225.9,323.2 224.7,328.6 223.4,334.1 222.2,339.6 220.9,345.1" fill="none" stroke="#000" stroke-width="1.1" stroke-linejoin="round"/>
<polyline points="285.1,293.9 284.4,299.1 283.7,304.4 283.0,309.7 282.3,315.1 281.6,320.4 280.9,325.8 280.2,331.2 279.4,336.6 278.7,342.1 278.0,347.6 273.3,347.0 268.5,346.3 263.8,345.6 259.1,344.9 254.4,344.1 249.6,343.3 244.9,342.5" fill="none" stroke="#000" stroke-width="1.1" stroke-linejoin="round"/>
<polyline points="284.4,299.1 288.7,299.6 292.9,300.1 297.2,300.5 301.4,300.9 305.7,301.2 309.9,301.6 309.5,308.4 309.0,315.3 308.5,322.3 311.9,324.8 315.4,326.6 320.8,327.4 325.3,328.2 328.8,331.0 333.3,330.6 336.9,332.8 341.4,331.2 345.1,332.8 348.7,330.6 353.2,331.1 358.0,333.3" fill="none" stroke="#000" stroke-width="1.1" stroke-linejoin="round"/>
<polyline points="355.9,302.5 356.9,308.3 357.9,314.2 357.9,320.5 357.9,326.9 358.0,333.3 362.0,334.1 362.2,339.7 362.4,345.3 362.6,350.9 362.8,356.6 363.0,362.3" fill="none" stroke="#000" stroke-width="1.1" stroke-linejoin="round"/>
<polyline points="355.7,297.2 355.9,302.5 360.7,302.4 365.4,302.2 370.2,301.9 375.0,301.6 379.7,301.3 384.5,300.9 389.2,300.5 394.0,300.0 392.7,305.5 398.4,304.9" fill="none" stroke="#000" stroke-width="1.1" stroke-linejoin="round"/>
<polyline points="362.2,340.1 367.5,339.9 372.8,339.6 378.1,339.3 383.5,338.9 388.8,338.5" fill="none" stroke="#000" stroke-width="1.1" stroke-linejoin="round"/>
<polyline points="355.7,297.2 355.6,291.7 355.5,286.2 355.3,280.7 355.2,275.2 351.2,271.1 349.6,266.0 346.0,259.8 345.0,255.7 343.2,250.6 342.1,245.5 340.6,240.6" fill="none" stroke="#000" stroke-width="1.1" stroke-linejoin="round"/>
<polyline points="346.0,259.8 349.9,259.8 353.8,259.7 357.7,259.6 361.6,259.5 365.5,259.3 369.5,259.1 373.4,258.8 377.3,258.5 379.9,260.6" fill="none" stroke="#000" stroke-width="1.1" stroke-linejoin="round"/>
<polyline points="340.7,230.4 344.5,230.4 348.3,230.4 352.1,230.3 355.9,230.2 359.7,230.1 363.5,229.9 367.3,229.7 371.1,229.5 374.9,229.2 378.7,228.9" fill="none" stroke="#000" stroke-width="1.1" stroke-linejoin="round"/>
<polyline points="340.6,240.6 340.7,234.4 339.6,230.4 340.7,230.4 340.7,224.4 340.7,218.4 340.8,212.4 338.0,209.4 340.1,206.1" fill="none" stroke="#000" stroke-width="1.1" stroke-linejoin="round"/>
<polyline points="340.1,206.1 338.8,199.6 338.3,190.8 336.5,183.9 336.1,176.2" fill="none" stroke="#000" stroke-width="1.1" stroke-linejoin="round"/>
<polyline points="370.1,197.7 369.2,203.7 365.5,208.8 366.5,217.2 372.4,220.3 376.3,224.1 378.7,228.9 379.7,233.8 383.8,238.5 387.8,242.2 387.9,245.3 384.1,249.2 382.2,254.0 382.1,257.6 379.9,260.6 380.3,265.5 384.1,270.4 386.8,274.3 391.4,275.4 391.0,279.2 393.2,284.2 398.1,286.8 398.5,291.0 401.8,293.8 401.1,298.2 399.5,299.4 398.4,304.9 397.3,310.4 396.0,314.9 394.3,316.1 392.7,321.7 390.1,327.4 387.8,333.1 388.8,338.5 389.6,342.8 391.3,346.0 389.3,350.6 387.4,355.3 386.4,360.9" fill="none" stroke="#000" stroke-width="1.1" stroke-linejoin="round"/>
<polyline points="381.5,198.2 388.1,201.0 393.1,202.3 398.1,203.6 400.3,206.8 402.5,210.0" fill="none" stroke="#000" stroke-width="1.1" stroke-linejoin="round"/>
<polyline points="383.8,238.5 388.1,238.1 392.3,237.6 396.5,237.1 400.7,236.6 404.9,236.0" fill="none" stroke="#000" stroke-width="1.1" stroke-linejoin="round"/>
<polyline points="408.0,243.1 409.0,249.2 409.9,255.3 410.8,261.4 411.7,267.6 412.3,272.3 411.4,277.7 410.3,281.0 409.9,284.2" fill="none" stroke="#000" stroke-width="1.1" stroke-linejoin="round"/>
<polyline points="410.5,242.7 415.0,242.0 419.5,241.2 424.0,240.4 428.4,239.5 428.6,240.1 433.6,239.0 438.5,237.7" fill="none" stroke="#000" stroke-width="1.1" stroke-linejoin="round"/>
<polyline points="428.6,240.1 429.6,245.3 430.6,250.6 431.6,255.8 432.6,261.1 433.7,266.4" fill="none" stroke="#000" stroke-width="1.1" stroke-linejoin="round"/>
<polyline points="463.1,243.0 463.3,247.6 463.2,253.0 458.8,258.5 455.6,263.6 455.5,266.8 452.9,269.6 448.8,266.8 444.3,268.9 439.3,269.0 436.2,265.9 433.7,266.4 432.8,269.7 429.4,271.5 427.9,276.5 425.5,279.6 421.6,281.4 417.7,283.1 413.3,282.1 409.9,284.2 407.1,288.9 407.1,291.5 403.9,293.0 401.8,293.8" fill="none" stroke="#000" stroke-width="1.1" stroke-linejoin="round"/>
<polyline points="459.4,229.6 460.9,235.2 462.5,240.8 464.1,246.5 465.7,252.1 469.7,251.0 473.7,249.8 477.7,248.6 481.7,247.3 485.7,246.1 489.6,244.7 493.6,243.4 497.5,242.0 501.5,240.5 504.0,246.6 506.5,252.6 511.7,250.7" fill="none" stroke="#000" stroke-width="1.1" stroke-linejoin="round"/>
<polyline points="464.1,225.4 464.9,228.1 468.9,226.9 472.9,225.6 476.8,224.4 480.8,223.1 484.7,221.7 488.6,220.3 492.6,218.9 496.4,217.5 498.8,218.2 503.5,221.7 501.7,226.4 502.3,229.6 507.4,233.0 505.6,237.0 503.9,238.7 501.5,240.5" fill="none" stroke="#000" stroke-width="1.1" stroke-linejoin="round"/>
<polyline points="503.5,221.7 510.5,222.9" fill="none" stroke="#000" stroke-width="1.1" stroke-linejoin="round"/>
<polyline points="473.6,249.8 475.2,255.0 478.1,251.4 482.0,248.0 485.2,247.5 488.3,249.8 490.7,251.2 494.8,252.0 496.1,257.0 499.9,257.9 503.7,258.8" fill="none" stroke="#000" stroke-width="1.1" stroke-linejoin="round"/>
<polyline points="488.3,249.8 484.2,253.3 480.9,257.6 479.0,262.6 474.6,268.2 473.7,274.0 467.0,278.0 459.9,277.6" fill="none" stroke="#000" stroke-width="1.1" stroke-linejoin="round"/>
<polyline points="459.9,277.6 455.3,274.4 452.9,269.6" fill="none" stroke="#000" stroke-width="1.1" stroke-linejoin="round"/>
<polyline points="459.9,277.6 455.1,284.3 448.3,290.2" fill="none" stroke="#000" stroke-width="1.1" stroke-linejoin="round"/>
<polyline points="448.3,290.2 443.8,291.1 439.2,292.1 434.6,293.0 430.0,293.8 425.5,294.6 420.9,295.4 416.3,296.1 411.7,296.8 411.8,297.8 405.7,298.7 399.5,299.4" fill="none" stroke="#000" stroke-width="1.1" stroke-linejoin="round"/>
<polyline points="512.4,271.9 508.1,273.5 503.9,275.0 499.6,276.4 495.3,277.9 491.0,279.2 486.7,280.6 482.4,281.9 478.1,283.2 473.7,284.4 469.4,285.6 465.0,286.7 460.9,287.6 456.7,288.5 452.5,289.4 448.3,290.2" fill="none" stroke="#000" stroke-width="1.1" stroke-linejoin="round"/>
<polyline points="464.9,286.3 462.7,292.2 456.4,295.4 452.3,300.8 447.9,305.6 446.5,308.1" fill="none" stroke="#000" stroke-width="1.1" stroke-linejoin="round"/>
<polyline points="457.0,305.7 452.6,306.7 448.1,307.7 443.7,308.6 439.2,309.5 434.8,310.4 430.3,311.2 425.8,311.9 421.4,312.6 416.9,313.3 412.4,314.0 407.9,314.6 403.4,315.1 398.9,315.7 394.3,316.1" fill="none" stroke="#000" stroke-width="1.1" stroke-linejoin="round"/>
<polyline points="457.0,305.7 463.3,302.0 468.7,300.9 474.1,299.8 477.2,302.9 481.9,301.5 486.6,300.2 493.0,303.6 499.5,307.0" fill="none" stroke="#000" stroke-width="1.1" stroke-linejoin="round"/>
<polyline points="457.0,305.7 459.9,310.6 466.7,315.7 474.8,321.5 479.1,327.2" fill="none" stroke="#000" stroke-width="1.1" stroke-linejoin="round"/>
<polyline points="435.4,310.2 437.4,315.8 439.4,321.3 441.4,326.9 443.5,332.5 446.7,338.1 447.5,347.0 449.1,352.3" fill="none" stroke="#000" stroke-width="1.1" stroke-linejoin="round"/>
<polyline points="412.7,313.9 413.0,319.3 413.3,324.8 413.6,330.2 413.9,335.7 414.2,341.2 415.1,347.0 416.0,352.7 416.9,358.5 417.8,364.3" fill="none" stroke="#000" stroke-width="1.1" stroke-linejoin="round"/>
<polyline points="512.3,222.2 511.8,219.0 509.3,211.8 508.1,204.6 504.9,196.7 501.8,190.3 498.8,184.0" fill="none" stroke="#000" stroke-width="1.1" stroke-linejoin="round"/>
<polyline points="509.3,211.8 513.2,210.2 517.2,208.6 521.1,206.9 523.8,213.8" fill="none" stroke="#000" stroke-width="1.1" stroke-linejoin="round"/>
<polyline points="521.1,206.9 524.1,205.9 526.6,208.1 528.0,209.7" fill="none" stroke="#000" stroke-width="1.1" stroke-linejoin="round"/>
<polyline points="508.1,204.6 512.7,202.8 517.2,201.0 521.7,199.2 524.1,196.1" fill="none" stroke="#000" stroke-width="1.1" stroke-linejoin="round"/>
<polyline points="513.7,202.4 510.9,194.1 510.0,186.8 510.7,178.8" fill="none" stroke="#000" stroke-width="1.1" stroke-linejoin="round"/>
<polyline points="524.1,193.9 520.0,189.9 517.4,184.9 514.7,179.9 512.1,174.9" fill="none" stroke="#000" stroke-width="1.1" stroke-linejoin="round"/>
<polyline points="160.4,160.5 163.1,162.3 165.3,165.6 168.4,168.3 172.9,169.8 177.4,171.3 182.0,173.2 186.5,174.1 191.0,175.1 203.6,179.2" fill="none" stroke="#000" stroke-width="1.1"/>
<polyline points="203.6,179.2 205.6,182.7 202.4,188.0 198.6,192.5 195.6,196.3 196.3,198.9 194.1,205.8" fill="none" stroke="#000" stroke-width="1.1"/>
<polyline points="365.4,376.3 366.5,370.2 367.2,362.7 365.7,355.1 362.7,347.6 361.9,340.0" fill="none" stroke="#000" stroke-width="1.1"/>
<polyline points="389.9,340.0 390.6,346.0 387.6,352.1 386.1,359.7 403.5,360.4 405.0,365.7 406.5,369.5 408.0,372.5" fill="none" stroke="#000" stroke-width="1.1"/>
<polyline points="424.7,363.0 425.4,357.4 430.2,355.1" fill="none" stroke="#000" stroke-width="1.1"/>
<polyline points="430.0,355.1 448.9,353.6 478.1,351.8 478.4,349.1 481.4,349.4 482.3,347.6" fill="none" stroke="#000" stroke-width="1.1"/>
<polyline points="445.1,340.0 448.9,353.6" fill="none" stroke="#000" stroke-width="1.1"/>
<polyline points="485.0,328.3 478.7,325.0 472.6,320.4 466.6,315.9 462.0,312.1 458.3,309.8 453.0,309.8" fill="none" stroke="#000" stroke-width="1.1"/>
<polyline points="498.7,184.7 503.2,197.0 507.7,205.8" fill="none" stroke="#000" stroke-width="1.1"/>
<polyline points="499.0,185.0 503.7,197.3 508.2,205.8" fill="none" stroke="#000" stroke-width="1.1"/>
<polyline points="218.5,155.1 217.7,162.7 220.0,170.2 222.3,179.3 218.5,188.4 221.5,192.2 223.8,200.5 225.3,203.5 231.3,204.2 238.2,202.0" fill="none" stroke="#000" stroke-width="1.1"/></g>
<rect x="31" y="126" width="625" height="312" fill="none" stroke="#000" stroke-width="2" shape-rendering="crispEdges"/>
<g stroke="#000" stroke-width="1" shape-rendering="crispEdges">
<polygon points="68.3,478.8 114.5,473.2 114.5,485.0" fill="#ff00ff"/>
<polygon points="620,478.8 573.7,473.2 573.7,485.0" fill="#7d0000"/>
<rect x="114.50" y="472.5" width="45.92" height="12.7" fill="#a000c8"/>
<rect x="160.42" y="472.5" width="45.92" height="12.7" fill="#6e00dc"/>
<rect x="206.34" y="472.5" width="45.92" height="12.7" fill="#1e9bff"/>
<rect x="252.26" y="472.5" width="45.92" height="12.7" fill="#00a000"/>
<rect x="298.18" y="472.5" width="45.92" height="12.7" fill="#6ecb6e"/>
<rect x="344.10" y="472.5" width="45.92" height="12.7" fill="#e6e600"/>
<rect x="390.02" y="472.5" width="45.92" height="12.7" fill="#ebaa37"/>
<rect x="435.94" y="472.5" width="45.92" height="12.7" fill="#f58228"/>
<rect x="481.86" y="472.5" width="45.92" height="12.7" fill="#fa0000"/>
<rect x="527.78" y="472.5" width="45.92" height="12.7" fill="#c80000"/>
</g>
<path d="M128.18 42.72 L128.18 59.00 M128.18 42.72 L132.56 42.72 L134.43 43.50 L135.68 45.05 L136.31 46.60 L136.93 48.92 L136.93 52.80 L136.31 55.12 L135.68 56.67 L134.43 58.23 L132.56 59.00 L128.18 59.00 M141.51 52.80 L149.01 52.80 L149.01 51.25 L148.38 49.70 L147.76 48.92 L146.51 48.15 L144.63 48.15 L143.38 48.92 L142.13 50.48 L141.51 52.80 L141.51 54.35 L142.13 56.67 L143.38 58.23 L144.63 59.00 L146.51 59.00 L147.76 58.23 L149.01 56.67 M154.17 48.15 L154.17 64.42 M154.17 50.48 L155.42 48.92 L156.67 48.15 L158.54 48.15 L159.79 48.92 L161.04 50.48 L161.67 52.80 L161.67 54.35 L161.04 56.67 L159.79 58.23 L158.54 59.00 L156.67 59.00 L155.42 58.23 L154.17 56.67 M173.72 48.15 L173.72 59.00 M173.72 50.48 L172.47 48.92 L171.22 48.15 L169.35 48.15 L168.10 48.92 L166.85 50.48 L166.22 52.80 L166.22 54.35 L166.85 56.67 L168.10 58.23 L169.35 59.00 L171.22 59.00 L172.47 58.23 L173.72 56.67 M179.40 48.15 L179.40 59.00 M179.40 52.80 L180.02 50.48 L181.27 48.92 L182.52 48.15 L184.40 48.15 M188.68 42.72 L188.68 55.90 L189.30 58.23 L190.55 59.00 L191.80 59.00 M186.80 48.15 L191.18 48.15 M196.21 48.15 L196.21 55.90 L196.84 58.23 L198.09 59.00 L199.96 59.00 L201.21 58.23 L203.09 55.90 M203.09 48.15 L203.09 59.00 M208.76 48.15 L208.76 59.00 M208.76 52.80 L209.39 50.48 L210.64 48.92 L211.89 48.15 L213.76 48.15 M216.92 52.80 L224.42 52.80 L224.42 51.25 L223.79 49.70 L223.17 48.92 L221.92 48.15 L220.04 48.15 L218.79 48.92 L217.54 50.48 L216.92 52.80 L216.92 54.35 L217.54 56.67 L218.79 58.23 L220.04 59.00 L221.92 59.00 L223.17 58.23 L224.42 56.67 M246.53 42.72 L245.28 42.72 L244.03 43.50 L243.40 45.83 L243.40 59.00 M241.53 48.15 L245.90 48.15 M250.81 48.15 L250.81 59.00 M250.81 52.80 L251.43 50.48 L252.68 48.92 L253.93 48.15 L255.81 48.15 M262.11 48.15 L260.86 48.92 L259.61 50.48 L258.98 52.80 L258.98 54.35 L259.61 56.67 L260.86 58.23 L262.11 59.00 L263.98 59.00 L265.23 58.23 L266.48 56.67 L267.11 54.35 L267.11 52.80 L266.48 50.48 L265.23 48.92 L263.98 48.15 L262.11 48.15 M272.52 48.15 L272.52 59.00 M272.52 51.25 L274.40 48.92 L275.65 48.15 L277.52 48.15 L278.77 48.92 L279.40 51.25 L279.40 59.00 M279.40 51.25 L281.27 48.92 L282.52 48.15 L284.40 48.15 L285.65 48.92 L286.27 51.25 L286.27 59.00 M305.72 42.72 L305.72 59.00 M305.72 42.72 L314.47 59.00 M314.47 42.72 L314.47 59.00 M322.84 48.15 L321.59 48.92 L320.34 50.48 L319.72 52.80 L319.72 54.35 L320.34 56.67 L321.59 58.23 L322.84 59.00 L324.72 59.00 L325.97 58.23 L327.22 56.67 L327.84 54.35 L327.84 52.80 L327.22 50.48 L325.97 48.92 L324.72 48.15 L322.84 48.15 M332.89 48.15 L332.89 59.00 M332.89 52.80 L333.52 50.48 L334.77 48.92 L336.02 48.15 L337.89 48.15 M341.93 48.15 L341.93 59.00 M341.93 51.25 L343.80 48.92 L345.05 48.15 L346.93 48.15 L348.18 48.92 L348.80 51.25 L348.80 59.00 M348.80 51.25 L350.68 48.92 L351.93 48.15 L353.80 48.15 L355.05 48.92 L355.68 51.25 L355.68 59.00 M368.59 48.15 L368.59 59.00 M368.59 50.48 L367.34 48.92 L366.09 48.15 L364.22 48.15 L362.97 48.92 L361.72 50.48 L361.09 52.80 L361.09 54.35 L361.72 56.67 L362.97 58.23 L364.22 59.00 L366.09 59.00 L367.34 58.23 L368.59 56.67 M374.16 42.72 L374.16 59.00 M395.52 42.72 L395.52 59.00 M391.14 42.72 L399.89 42.72 M403.12 52.80 L410.62 52.80 L410.62 51.25 L409.99 49.70 L409.37 48.92 L408.12 48.15 L406.24 48.15 L404.99 48.92 L403.74 50.48 L403.12 52.80 L403.12 54.35 L403.74 56.67 L404.99 58.23 L406.24 59.00 L408.12 59.00 L409.37 58.23 L410.62 56.67 M416.01 48.15 L416.01 59.00 M416.01 51.25 L417.88 48.92 L419.13 48.15 L421.01 48.15 L422.26 48.92 L422.88 51.25 L422.88 59.00 M422.88 51.25 L424.76 48.92 L426.01 48.15 L427.88 48.15 L429.13 48.92 L429.76 51.25 L429.76 59.00 M435.80 48.15 L435.80 64.42 M435.80 50.48 L437.05 48.92 L438.30 48.15 L440.17 48.15 L441.42 48.92 L442.67 50.48 L443.30 52.80 L443.30 54.35 L442.67 56.67 L441.42 58.23 L440.17 59.00 L438.30 59.00 L437.05 58.23 L435.80 56.67 M447.83 52.80 L455.33 52.80 L455.33 51.25 L454.70 49.70 L454.08 48.92 L452.83 48.15 L450.95 48.15 L449.70 48.92 L448.45 50.48 L447.83 52.80 L447.83 54.35 L448.45 56.67 L449.70 58.23 L450.95 59.00 L452.83 59.00 L454.08 58.23 L455.33 56.67 M460.36 48.15 L460.36 59.00 M460.36 52.80 L460.99 50.48 L462.24 48.92 L463.49 48.15 L465.36 48.15 M476.04 48.15 L476.04 59.00 M476.04 50.48 L474.79 48.92 L473.54 48.15 L471.66 48.15 L470.41 48.92 L469.16 50.48 L468.54 52.80 L468.54 54.35 L469.16 56.67 L470.41 58.23 L471.66 59.00 L473.54 59.00 L474.79 58.23 L476.04 56.67 M482.32 42.72 L482.32 55.90 L482.95 58.23 L484.20 59.00 L485.45 59.00 M480.45 48.15 L484.82 48.15 M489.85 48.15 L489.85 55.90 L490.48 58.23 L491.73 59.00 L493.60 59.00 L494.85 58.23 L496.73 55.90 M496.73 48.15 L496.73 59.00 M502.40 48.15 L502.40 59.00 M502.40 52.80 L503.03 50.48 L504.28 48.92 L505.53 48.15 L507.40 48.15 M510.56 52.80 L518.06 52.80 L518.06 51.25 L517.44 49.70 L516.81 48.92 L515.56 48.15 L513.69 48.15 L512.44 48.92 L511.19 50.48 L510.56 52.80 L510.56 54.35 L511.19 56.67 L512.44 58.23 L513.69 59.00 L515.56 59.00 L516.81 58.23 L518.06 56.67 M540.84 40.80 L539.59 42.35 L538.34 44.68 L537.09 47.78 L536.46 51.65 L536.46 54.75 L537.09 58.63 L538.34 61.73 L539.59 64.05 L540.84 65.60 M545.89 42.72 L545.89 59.00 M545.89 42.72 L554.01 42.72 M545.89 50.48 L550.89 50.48 M557.19 40.80 L558.44 42.35 L559.69 44.68 L560.94 47.78 L561.57 51.65 L561.57 54.75 L560.94 58.63 L559.69 61.73 L558.44 64.05 L557.19 65.60 M212.97 77.34 L214.20 76.59 L216.05 74.36 L216.05 90.00 M234.78 71.38 L223.71 95.22 M239.36 78.08 L239.36 77.34 L239.97 75.84 L240.59 75.10 L241.82 74.36 L244.28 74.36 L245.51 75.10 L246.12 75.84 L246.74 77.34 L246.74 78.83 L246.12 80.31 L244.89 82.55 L238.74 90.00 L247.35 90.00 M262.39 71.38 L251.32 95.22 M266.97 78.08 L266.97 77.34 L267.59 75.84 L268.20 75.10 L269.43 74.36 L271.89 74.36 L273.12 75.10 L273.74 75.84 L274.35 77.34 L274.35 78.83 L273.74 80.31 L272.51 82.55 L266.36 90.00 L274.97 90.00 M283.20 74.36 L281.35 75.10 L280.12 77.34 L279.51 81.06 L279.51 83.30 L280.12 87.02 L281.35 89.25 L283.20 90.00 L284.43 90.00 L286.27 89.25 L287.50 87.02 L288.12 83.30 L288.12 81.06 L287.50 77.34 L286.27 75.10 L284.43 74.36 L283.20 74.36 M294.50 77.34 L295.73 76.59 L297.58 74.36 L297.58 90.00 M306.42 78.08 L306.42 77.34 L307.04 75.84 L307.65 75.10 L308.88 74.36 L311.34 74.36 L312.57 75.10 L313.19 75.84 L313.80 77.34 L313.80 78.83 L313.19 80.31 L311.96 82.55 L305.81 90.00 L314.42 90.00 M332.19 83.30 L343.26 83.30 M362.88 77.34 L364.11 76.59 L365.95 74.36 L365.95 90.00 M384.68 71.38 L373.61 95.22 M389.88 74.36 L396.64 74.36 L392.95 80.31 L394.80 80.31 L396.03 81.06 L396.64 81.81 L397.26 84.04 L397.26 85.53 L396.64 87.77 L395.41 89.25 L393.57 90.00 L391.72 90.00 L389.88 89.25 L389.26 88.51 L388.65 87.02 M403.64 77.34 L404.87 76.59 L406.72 74.36 L406.72 90.00 M425.44 71.38 L414.37 95.22 M430.03 78.08 L430.03 77.34 L430.64 75.84 L431.26 75.10 L432.49 74.36 L434.95 74.36 L436.18 75.10 L436.79 75.84 L437.41 77.34 L437.41 78.83 L436.79 80.31 L435.56 82.55 L429.41 90.00 L438.02 90.00 M446.25 74.36 L444.41 75.10 L443.18 77.34 L442.56 81.06 L442.56 83.30 L443.18 87.02 L444.41 89.25 L446.25 90.00 L447.48 90.00 L449.33 89.25 L450.56 87.02 L451.17 83.30 L451.17 81.06 L450.56 77.34 L449.33 75.10 L447.48 74.36 L446.25 74.36 M457.56 77.34 L458.79 76.59 L460.63 74.36 L460.63 90.00 M469.48 78.08 L469.48 77.34 L470.09 75.84 L470.71 75.10 L471.94 74.36 L474.40 74.36 L475.63 75.10 L476.24 75.84 L476.86 77.34 L476.86 78.83 L476.24 80.31 L475.01 82.55 L468.86 90.00 L477.47 90.00" fill="none" stroke="#000" stroke-width="1.5" stroke-linecap="square" stroke-linejoin="miter" shape-rendering="crispEdges"/>
<path d="M103.87 493.26 L110.53 493.26 M113.52 490.38 L114.26 490.02 L115.37 488.94 L115.37 496.50 M124.65 488.94 L120.95 488.94 L120.58 492.18 L120.95 491.82 L122.06 491.46 L123.17 491.46 L124.28 491.82 L125.02 492.54 L125.39 493.62 L125.39 494.34 L125.02 495.42 L124.28 496.14 L123.17 496.50 L122.06 496.50 L120.95 496.14 L120.58 495.78 L120.21 495.06 M149.79 493.26 L156.45 493.26 M159.44 490.38 L160.18 490.02 L161.29 488.94 L161.29 496.50 M166.50 490.74 L166.50 490.38 L166.87 489.66 L167.24 489.30 L167.98 488.94 L169.46 488.94 L170.20 489.30 L170.57 489.66 L170.94 490.38 L170.94 491.10 L170.57 491.82 L169.83 492.90 L166.13 496.50 L171.31 496.50 M199.61 493.26 L206.27 493.26 M212.96 491.46 L212.59 492.54 L211.85 493.26 L210.74 493.62 L210.37 493.62 L209.26 493.26 L208.52 492.54 L208.15 491.46 L208.15 491.10 L208.52 490.02 L209.26 489.30 L210.37 488.94 L210.74 488.94 L211.85 489.30 L212.59 490.02 L212.96 491.46 L212.96 493.26 L212.59 495.06 L211.85 496.14 L210.74 496.50 L210.00 496.50 L208.89 496.14 L208.52 495.42 M245.53 493.26 L252.19 493.26 M258.88 490.02 L258.51 489.30 L257.40 488.94 L256.66 488.94 L255.55 489.30 L254.81 490.38 L254.44 492.18 L254.44 493.98 L254.81 495.42 L255.55 496.14 L256.66 496.50 L257.03 496.50 L258.14 496.14 L258.88 495.42 L259.25 494.34 L259.25 493.98 L258.88 492.90 L258.14 492.18 L257.03 491.82 L256.66 491.82 L255.55 492.18 L254.81 492.90 L254.44 493.98 M291.45 493.26 L298.11 493.26 M300.73 488.94 L304.80 488.94 L302.58 491.82 L303.69 491.82 L304.43 492.18 L304.80 492.54 L305.17 493.62 L305.17 494.34 L304.80 495.42 L304.06 496.14 L302.95 496.50 L301.84 496.50 L300.73 496.14 L300.36 495.78 L299.99 495.06 M344.23 488.94 L343.12 489.30 L342.38 490.38 L342.01 492.18 L342.01 493.26 L342.38 495.06 L343.12 496.14 L344.23 496.50 L344.97 496.50 L346.08 496.14 L346.82 495.06 L347.19 493.26 L347.19 492.18 L346.82 490.38 L346.08 489.30 L344.97 488.94 L344.23 488.94 M388.67 488.94 L392.74 488.94 L390.52 491.82 L391.63 491.82 L392.37 492.18 L392.74 492.54 L393.11 493.62 L393.11 494.34 L392.74 495.42 L392.00 496.14 L390.89 496.50 L389.78 496.50 L388.67 496.14 L388.30 495.78 L387.93 495.06 M438.66 490.02 L438.29 489.30 L437.18 488.94 L436.44 488.94 L435.33 489.30 L434.59 490.38 L434.22 492.18 L434.22 493.98 L434.59 495.42 L435.33 496.14 L436.44 496.50 L436.81 496.50 L437.92 496.14 L438.66 495.42 L439.03 494.34 L439.03 493.98 L438.66 492.90 L437.92 492.18 L436.81 491.82 L436.44 491.82 L435.33 492.18 L434.59 492.90 L434.22 493.98 M484.58 491.46 L484.21 492.54 L483.47 493.26 L482.36 493.62 L481.99 493.62 L480.88 493.26 L480.14 492.54 L479.77 491.46 L479.77 491.10 L480.14 490.02 L480.88 489.30 L481.99 488.94 L482.36 488.94 L483.47 489.30 L484.21 490.02 L484.58 491.46 L484.58 493.26 L484.21 495.06 L483.47 496.14 L482.36 496.50 L481.62 496.50 L480.51 496.14 L480.14 495.42 M522.90 490.38 L523.64 490.02 L524.75 488.94 L524.75 496.50 M529.96 490.74 L529.96 490.38 L530.33 489.66 L530.70 489.30 L531.44 488.94 L532.92 488.94 L533.66 489.30 L534.03 489.66 L534.40 490.38 L534.40 491.10 L534.03 491.82 L533.29 492.90 L529.59 496.50 L534.77 496.50 M568.82 490.38 L569.56 490.02 L570.67 488.94 L570.67 496.50 M579.95 488.94 L576.25 488.94 L575.88 492.18 L576.25 491.82 L577.36 491.46 L578.47 491.46 L579.58 491.82 L580.32 492.54 L580.69 493.62 L580.69 494.34 L580.32 495.42 L579.58 496.14 L578.47 496.50 L577.36 496.50 L576.25 496.14 L575.88 495.78 L575.51 495.06 M12.61 521.44 L12.26 520.62 L11.56 519.80 L10.86 519.39 L9.46 519.39 L8.76 519.80 L8.06 520.62 L7.71 521.44 L7.36 522.67 L7.36 524.72 L7.71 525.95 L8.06 526.77 L8.76 527.59 L9.46 528.00 L10.86 528.00 L11.56 527.59 L12.26 526.77 L12.61 525.95 L12.61 524.72 M10.86 524.72 L12.61 524.72 M15.11 524.72 L19.31 524.72 L19.31 523.90 L18.96 523.08 L18.61 522.67 L17.91 522.26 L16.86 522.26 L16.16 522.67 L15.46 523.49 L15.11 524.72 L15.11 525.54 L15.46 526.77 L16.16 527.59 L16.86 528.00 L17.91 528.00 L18.61 527.59 L19.31 526.77 M22.14 522.26 L22.14 528.00 M22.14 523.90 L23.19 522.67 L23.89 522.26 L24.94 522.26 L25.64 522.67 L25.99 523.90 L25.99 528.00 M28.82 524.72 L33.02 524.72 L33.02 523.90 L32.67 523.08 L32.32 522.67 L31.62 522.26 L30.57 522.26 L29.87 522.67 L29.17 523.49 L28.82 524.72 L28.82 525.54 L29.17 526.77 L29.87 527.59 L30.57 528.00 L31.62 528.00 L32.32 527.59 L33.02 526.77 M35.78 522.26 L35.78 528.00 M35.78 524.72 L36.13 523.49 L36.83 522.67 L37.53 522.26 L38.58 522.26 M44.51 522.26 L44.51 528.00 M44.51 523.49 L43.81 522.67 L43.11 522.26 L42.06 522.26 L41.36 522.67 L40.66 523.49 L40.31 524.72 L40.31 525.54 L40.66 526.77 L41.36 527.59 L42.06 528.00 L43.11 528.00 L43.81 527.59 L44.51 526.77 M47.98 519.39 L47.98 526.36 L48.33 527.59 L49.03 528.00 L49.73 528.00 M46.93 522.26 L49.38 522.26 M51.78 524.72 L55.98 524.72 L55.98 523.90 L55.63 523.08 L55.28 522.67 L54.58 522.26 L53.53 522.26 L52.83 522.67 L52.13 523.49 L51.78 524.72 L51.78 525.54 L52.13 526.77 L52.83 527.59 L53.53 528.00 L54.58 528.00 L55.28 527.59 L55.98 526.77 M62.66 519.39 L62.66 528.00 M62.66 523.49 L61.96 522.67 L61.26 522.26 L60.21 522.26 L59.51 522.67 L58.81 523.49 L58.46 524.72 L58.46 525.54 L58.81 526.77 L59.51 527.59 L60.21 528.00 L61.26 528.00 L61.96 527.59 L62.66 526.77 M73.26 521.44 L73.26 521.03 L73.61 520.21 L73.96 519.80 L74.66 519.39 L76.06 519.39 L76.76 519.80 L77.11 520.21 L77.46 521.03 L77.46 521.85 L77.11 522.67 L76.41 523.90 L72.91 528.00 L77.81 528.00 M86.29 517.75 L79.99 530.87 M89.52 521.03 L90.22 520.62 L91.27 519.39 L91.27 528.00 M101.85 517.75 L95.55 530.87 M104.38 521.44 L104.38 521.03 L104.73 520.21 L105.08 519.80 L105.78 519.39 L107.18 519.39 L107.88 519.80 L108.23 520.21 L108.58 521.03 L108.58 521.85 L108.23 522.67 L107.53 523.90 L104.03 528.00 L108.93 528.00 M113.54 519.39 L112.49 519.80 L111.79 521.03 L111.44 523.08 L111.44 524.31 L111.79 526.36 L112.49 527.59 L113.54 528.00 L114.24 528.00 L115.29 527.59 L115.99 526.36 L116.34 524.31 L116.34 523.08 L115.99 521.03 L115.29 519.80 L114.24 519.39 L113.54 519.39 M119.89 521.03 L120.59 520.62 L121.64 519.39 L121.64 528.00 M126.60 521.44 L126.60 521.03 L126.95 520.21 L127.30 519.80 L128.00 519.39 L129.40 519.39 L130.10 519.80 L130.45 520.21 L130.80 521.03 L130.80 521.85 L130.45 522.67 L129.75 523.90 L126.25 528.00 L131.15 528.00 M145.26 522.26 L145.26 528.00 M145.26 523.49 L144.56 522.67 L143.86 522.26 L142.81 522.26 L142.11 522.67 L141.41 523.49 L141.06 524.72 L141.06 525.54 L141.41 526.77 L142.11 527.59 L142.81 528.00 L143.86 528.00 L144.56 527.59 L145.26 526.77 M148.72 519.39 L148.72 526.36 L149.07 527.59 L149.77 528.00 L150.47 528.00 M147.67 522.26 L150.12 522.26 M160.33 519.39 L160.33 528.00 M165.23 519.39 L165.23 528.00 M160.33 523.49 L165.23 523.49 M168.47 519.39 L168.47 528.00 M168.47 519.39 L171.62 519.39 L172.67 519.80 L173.02 520.21 L173.37 521.03 L173.37 522.26 L173.02 523.08 L172.67 523.49 L171.62 523.90 L168.47 523.90 M176.25 519.39 L176.25 528.00 M176.25 519.39 L179.40 519.39 L180.45 519.80 L180.80 520.21 L181.15 521.03 L181.15 521.85 L180.80 522.67 L180.45 523.08 L179.40 523.49 L176.25 523.49 M178.70 523.49 L181.15 528.00 M188.92 521.44 L188.57 520.62 L187.87 519.80 L187.17 519.39 L185.77 519.39 L185.07 519.80 L184.37 520.62 L184.02 521.44 L183.67 522.67 L183.67 524.72 L184.02 525.95 L184.37 526.77 L185.07 527.59 L185.77 528.00 L187.17 528.00 L187.87 527.59 L188.57 526.77 L188.92 525.95 M196.70 521.44 L196.35 520.62 L195.65 519.80 L194.95 519.39 L193.55 519.39 L192.85 519.80 L192.15 520.62 L191.80 521.44 L191.45 522.67 L191.45 524.72 L191.80 525.95 L192.15 526.77 L192.85 527.59 L193.55 528.00 L194.95 528.00 L195.65 527.59 L196.35 526.77 L196.70 525.95 M206.97 522.26 L206.97 526.36 L207.32 527.59 L208.02 528.00 L209.07 528.00 L209.77 527.59 L210.82 526.36 M210.82 522.26 L210.82 528.00 M217.49 523.49 L217.14 522.67 L216.09 522.26 L215.04 522.26 L213.99 522.67 L213.64 523.49 L213.99 524.31 L214.69 524.72 L216.44 525.13 L217.14 525.54 L217.49 526.36 L217.49 526.77 L217.14 527.59 L216.09 528.00 L215.04 528.00 L213.99 527.59 L213.64 526.77 M219.84 519.39 L220.19 519.80 L220.54 519.39 L220.19 518.98 L219.84 519.39 M220.19 522.26 L220.19 528.00 M223.27 522.26 L223.27 528.00 M223.27 523.90 L224.32 522.67 L225.02 522.26 L226.07 522.26 L226.77 522.67 L227.12 523.90 L227.12 528.00 M234.15 522.26 L234.15 528.82 L233.80 530.05 L233.45 530.46 L232.75 530.87 L231.70 530.87 L231.00 530.46 M234.15 523.49 L233.45 522.67 L232.75 522.26 L231.70 522.26 L231.00 522.67 L230.30 523.49 L229.95 524.72 L229.95 525.54 L230.30 526.77 L231.00 527.59 L231.70 528.00 L232.75 528.00 L233.45 527.59 L234.15 526.77 M244.75 522.26 L244.75 530.87 M244.75 523.49 L245.45 522.67 L246.15 522.26 L247.20 522.26 L247.90 522.67 L248.60 523.49 L248.95 524.72 L248.95 525.54 L248.60 526.77 L247.90 527.59 L247.20 528.00 L246.15 528.00 L245.45 527.59 L244.75 526.77 M251.73 522.26 L251.73 528.00 M251.73 524.72 L252.08 523.49 L252.78 522.67 L253.48 522.26 L254.53 522.26 M258.00 522.26 L257.30 522.67 L256.60 523.49 L256.25 524.72 L256.25 525.54 L256.60 526.77 L257.30 527.59 L258.00 528.00 L259.05 528.00 L259.75 527.59 L260.45 526.77 L260.80 525.54 L260.80 524.72 L260.45 523.49 L259.75 522.67 L259.05 522.26 L258.00 522.26 M262.91 522.26 L265.01 528.00 M267.11 522.26 L265.01 528.00 M269.10 519.39 L269.45 519.80 L269.80 519.39 L269.45 518.98 L269.10 519.39 M269.45 522.26 L269.45 528.00 M276.01 523.49 L275.66 522.67 L274.61 522.26 L273.56 522.26 L272.51 522.67 L272.16 523.49 L272.51 524.31 L273.21 524.72 L274.96 525.13 L275.66 525.54 L276.01 526.36 L276.01 526.77 L275.66 527.59 L274.61 528.00 L273.56 528.00 L272.51 527.59 L272.16 526.77 M278.36 519.39 L278.71 519.80 L279.06 519.39 L278.71 518.98 L278.36 519.39 M278.71 522.26 L278.71 528.00 M283.19 522.26 L282.49 522.67 L281.79 523.49 L281.44 524.72 L281.44 525.54 L281.79 526.77 L282.49 527.59 L283.19 528.00 L284.24 528.00 L284.94 527.59 L285.64 526.77 L285.99 525.54 L285.99 524.72 L285.64 523.49 L284.94 522.67 L284.24 522.26 L283.19 522.26 M288.83 522.26 L288.83 528.00 M288.83 523.90 L289.88 522.67 L290.58 522.26 L291.63 522.26 L292.33 522.67 L292.68 523.90 L292.68 528.00 M299.71 522.26 L299.71 528.00 M299.71 523.49 L299.01 522.67 L298.31 522.26 L297.26 522.26 L296.56 522.67 L295.86 523.49 L295.51 524.72 L295.51 525.54 L295.86 526.77 L296.56 527.59 L297.26 528.00 L298.31 528.00 L299.01 527.59 L299.71 526.77 M302.79 519.39 L302.79 528.00 M317.12 519.39 L317.12 528.00 M317.12 523.49 L316.42 522.67 L315.72 522.26 L314.67 522.26 L313.97 522.67 L313.27 523.49 L312.92 524.72 L312.92 525.54 L313.27 526.77 L313.97 527.59 L314.67 528.00 L315.72 528.00 L316.42 527.59 L317.12 526.77 M324.16 522.26 L324.16 528.00 M324.16 523.49 L323.46 522.67 L322.76 522.26 L321.71 522.26 L321.01 522.67 L320.31 523.49 L319.96 524.72 L319.96 525.54 L320.31 526.77 L321.01 527.59 L321.71 528.00 L322.76 528.00 L323.46 527.59 L324.16 526.77 M327.63 519.39 L327.63 526.36 L327.98 527.59 L328.68 528.00 L329.38 528.00 M326.58 522.26 L329.03 522.26 M335.64 522.26 L335.64 528.00 M335.64 523.49 L334.94 522.67 L334.24 522.26 L333.19 522.26 L332.49 522.67 L331.79 523.49 L331.44 524.72 L331.44 525.54 L331.79 526.77 L332.49 527.59 L333.19 528.00 L334.24 528.00 L334.94 527.59 L335.64 526.77 M339.09 527.18 L338.74 527.59 L339.09 528.00 L339.44 527.59 L339.09 527.18 M533.15 519.39 L533.15 528.00 M533.15 519.39 L536.30 519.39 L537.35 519.80 L537.70 520.21 L538.05 521.03 L538.05 521.85 L537.70 522.67 L537.35 523.08 L536.30 523.49 L533.15 523.49 M535.60 523.49 L538.05 528.00 M540.55 524.72 L544.75 524.72 L544.75 523.90 L544.40 523.08 L544.05 522.67 L543.35 522.26 L542.30 522.26 L541.60 522.67 L540.90 523.49 L540.55 524.72 L540.55 525.54 L540.90 526.77 L541.60 527.59 L542.30 528.00 L543.35 528.00 L544.05 527.59 L544.75 526.77 M551.43 522.26 L551.43 528.82 L551.08 530.05 L550.73 530.46 L550.03 530.87 L548.98 530.87 L548.28 530.46 M551.43 523.49 L550.73 522.67 L550.03 522.26 L548.98 522.26 L548.28 522.67 L547.58 523.49 L547.23 524.72 L547.23 525.54 L547.58 526.77 L548.28 527.59 L548.98 528.00 L550.03 528.00 L550.73 527.59 L551.43 526.77 M554.16 519.39 L554.51 519.80 L554.86 519.39 L554.51 518.98 L554.16 519.39 M554.51 522.26 L554.51 528.00 M558.98 522.26 L558.28 522.67 L557.58 523.49 L557.23 524.72 L557.23 525.54 L557.58 526.77 L558.28 527.59 L558.98 528.00 L560.03 528.00 L560.73 527.59 L561.43 526.77 L561.78 525.54 L561.78 524.72 L561.43 523.49 L560.73 522.67 L560.03 522.26 L558.98 522.26 M564.62 522.26 L564.62 528.00 M564.62 523.90 L565.67 522.67 L566.37 522.26 L567.42 522.26 L568.12 522.67 L568.47 523.90 L568.47 528.00 M575.51 522.26 L575.51 528.00 M575.51 523.49 L574.81 522.67 L574.11 522.26 L573.06 522.26 L572.36 522.67 L571.66 523.49 L571.31 524.72 L571.31 525.54 L571.66 526.77 L572.36 527.59 L573.06 528.00 L574.11 528.00 L574.81 527.59 L575.51 526.77 M578.59 519.39 L578.59 528.00 M594.00 521.44 L593.65 520.62 L592.95 519.80 L592.25 519.39 L590.85 519.39 L590.15 519.80 L589.45 520.62 L589.10 521.44 L588.75 522.67 L588.75 524.72 L589.10 525.95 L589.45 526.77 L590.15 527.59 L590.85 528.00 L592.25 528.00 L592.95 527.59 L593.65 526.77 L594.00 525.95 M596.75 519.39 L596.75 528.00 M599.36 519.39 L599.71 519.80 L600.06 519.39 L599.71 518.98 L599.36 519.39 M599.71 522.26 L599.71 528.00 M602.90 522.26 L602.90 528.00 M602.90 523.90 L603.95 522.67 L604.65 522.26 L605.70 522.26 L606.40 522.67 L606.75 523.90 L606.75 528.00 M606.75 523.90 L607.80 522.67 L608.50 522.26 L609.55 522.26 L610.25 522.67 L610.60 523.90 L610.60 528.00 M617.76 522.26 L617.76 528.00 M617.76 523.49 L617.06 522.67 L616.36 522.26 L615.31 522.26 L614.61 522.67 L613.91 523.49 L613.56 524.72 L613.56 525.54 L613.91 526.77 L614.61 527.59 L615.31 528.00 L616.36 528.00 L617.06 527.59 L617.76 526.77 M621.22 519.39 L621.22 526.36 L621.57 527.59 L622.27 528.00 L622.97 528.00 M620.17 522.26 L622.62 522.26 M625.03 524.72 L629.23 524.72 L629.23 523.90 L628.88 523.08 L628.53 522.67 L627.83 522.26 L626.78 522.26 L626.08 522.67 L625.38 523.49 L625.03 524.72 L625.03 525.54 L625.38 526.77 L626.08 527.59 L626.78 528.00 L627.83 528.00 L628.53 527.59 L629.23 526.77 M644.39 521.44 L644.04 520.62 L643.34 519.80 L642.64 519.39 L641.24 519.39 L640.54 519.80 L639.84 520.62 L639.49 521.44 L639.14 522.67 L639.14 524.72 L639.49 525.95 L639.84 526.77 L640.54 527.59 L641.24 528.00 L642.64 528.00 L643.34 527.59 L644.04 526.77 L644.39 525.95 M646.89 524.72 L651.09 524.72 L651.09 523.90 L650.74 523.08 L650.39 522.67 L649.69 522.26 L648.64 522.26 L647.94 522.67 L647.24 523.49 L646.89 524.72 L646.89 525.54 L647.24 526.77 L647.94 527.59 L648.64 528.00 L649.69 528.00 L650.39 527.59 L651.09 526.77 M653.92 522.26 L653.92 528.00 M653.92 523.90 L654.97 522.67 L655.67 522.26 L656.72 522.26 L657.42 522.67 L657.77 523.90 L657.77 528.00 M661.24 519.39 L661.24 526.36 L661.59 527.59 L662.29 528.00 L662.99 528.00 M660.19 522.26 L662.64 522.26 M665.05 524.72 L669.25 524.72 L669.25 523.90 L668.90 523.08 L668.55 522.67 L667.85 522.26 L666.80 522.26 L666.10 522.67 L665.40 523.49 L665.05 524.72 L665.05 525.54 L665.40 526.77 L666.10 527.59 L666.80 528.00 L667.85 528.00 L668.55 527.59 L669.25 526.77 M672.02 522.26 L672.02 528.00 M672.02 524.72 L672.37 523.49 L673.07 522.67 L673.77 522.26 L674.82 522.26 M680.38 523.49 L680.03 522.67 L678.98 522.26 L677.93 522.26 L676.88 522.67 L676.53 523.49 L676.88 524.31 L677.58 524.72 L679.33 525.13 L680.03 525.54 L680.38 526.36 L680.38 526.77 L680.03 527.59 L678.98 528.00 L677.93 528.00 L676.88 527.59 L676.53 526.77" fill="none" stroke="#000" stroke-width="1" stroke-linecap="square" stroke-linejoin="miter" shape-rendering="crispEdges"/>
</svg></body></html>
